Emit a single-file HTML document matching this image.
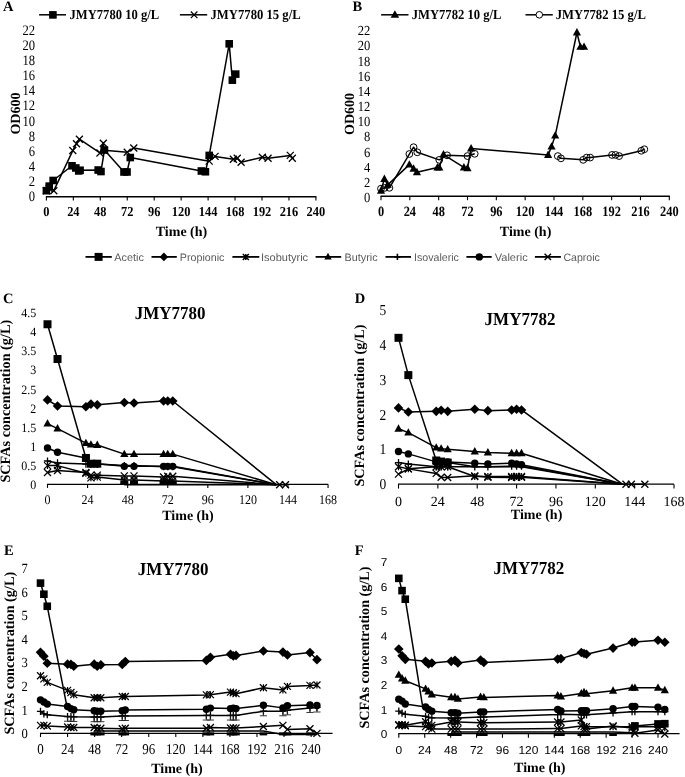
<!DOCTYPE html><html><head><meta charset="utf-8"><style>html,body{margin:0;padding:0;background:#fff}svg{display:block;will-change:transform}text{text-rendering:geometricPrecision}</style></head><body>
<svg width="685" height="777" viewBox="0 0 685 777">
<rect width="685" height="777" fill="#fff"/>
<text x="2.9" y="10.7" font-size="14.5" font-family="'Liberation Serif', serif" fill="#000" font-weight="bold">A</text>
<line x1="39.1" y1="14.8" x2="66" y2="14.8" stroke="#000" stroke-width="1.5"/>
<rect x="49.1" y="11.1" width="7.6" height="7.6" fill="#000"/>
<text x="0" y="0" transform="translate(69.5 19) scale(1 1.07)" font-size="13" font-family="'Liberation Serif', serif" fill="#000" font-weight="bold" textLength="89.6" lengthAdjust="spacingAndGlyphs">JMY7780 10 g/L</text>
<line x1="179.9" y1="14.8" x2="207.2" y2="14.8" stroke="#000" stroke-width="1.5"/>
<path d="M190.8 11.5L197.4 18.1M190.8 18.1L197.4 11.5" stroke="#000" stroke-width="1.2"/>
<text x="0" y="0" transform="translate(210.5 19) scale(1 1.07)" font-size="13" font-family="'Liberation Serif', serif" fill="#000" font-weight="bold" textLength="90.2" lengthAdjust="spacingAndGlyphs">JMY7780 15 g/L</text>
<line x1="45.9" y1="196.8" x2="316.4" y2="196.8" stroke="#000" stroke-width="1.4"/>
<line x1="46.4" y1="196.8" x2="46.4" y2="200.6" stroke="#000" stroke-width="1.1"/>
<text x="0" y="0" transform="translate(46.4 216) scale(1 1.1)" font-size="12.4" font-family="'Liberation Serif', serif" fill="#000" font-weight="bold" text-anchor="middle">0</text>
<line x1="73.35" y1="196.8" x2="73.35" y2="200.6" stroke="#000" stroke-width="1.1"/>
<text x="0" y="0" transform="translate(73.35 216) scale(1 1.1)" font-size="12.4" font-family="'Liberation Serif', serif" fill="#000" font-weight="bold" text-anchor="middle">24</text>
<line x1="100.3" y1="196.8" x2="100.3" y2="200.6" stroke="#000" stroke-width="1.1"/>
<text x="0" y="0" transform="translate(100.3 216) scale(1 1.1)" font-size="12.4" font-family="'Liberation Serif', serif" fill="#000" font-weight="bold" text-anchor="middle">48</text>
<line x1="127.25" y1="196.8" x2="127.25" y2="200.6" stroke="#000" stroke-width="1.1"/>
<text x="0" y="0" transform="translate(127.25 216) scale(1 1.1)" font-size="12.4" font-family="'Liberation Serif', serif" fill="#000" font-weight="bold" text-anchor="middle">72</text>
<line x1="154.2" y1="196.8" x2="154.2" y2="200.6" stroke="#000" stroke-width="1.1"/>
<text x="0" y="0" transform="translate(154.2 216) scale(1 1.1)" font-size="12.4" font-family="'Liberation Serif', serif" fill="#000" font-weight="bold" text-anchor="middle">96</text>
<line x1="181.15" y1="196.8" x2="181.15" y2="200.6" stroke="#000" stroke-width="1.1"/>
<text x="0" y="0" transform="translate(181.15 216) scale(1 1.1)" font-size="12.4" font-family="'Liberation Serif', serif" fill="#000" font-weight="bold" text-anchor="middle">120</text>
<line x1="208.1" y1="196.8" x2="208.1" y2="200.6" stroke="#000" stroke-width="1.1"/>
<text x="0" y="0" transform="translate(208.1 216) scale(1 1.1)" font-size="12.4" font-family="'Liberation Serif', serif" fill="#000" font-weight="bold" text-anchor="middle">144</text>
<line x1="235.05" y1="196.8" x2="235.05" y2="200.6" stroke="#000" stroke-width="1.1"/>
<text x="0" y="0" transform="translate(235.05 216) scale(1 1.1)" font-size="12.4" font-family="'Liberation Serif', serif" fill="#000" font-weight="bold" text-anchor="middle">168</text>
<line x1="262" y1="196.8" x2="262" y2="200.6" stroke="#000" stroke-width="1.1"/>
<text x="0" y="0" transform="translate(262 216) scale(1 1.1)" font-size="12.4" font-family="'Liberation Serif', serif" fill="#000" font-weight="bold" text-anchor="middle">192</text>
<line x1="288.95" y1="196.8" x2="288.95" y2="200.6" stroke="#000" stroke-width="1.1"/>
<text x="0" y="0" transform="translate(288.95 216) scale(1 1.1)" font-size="12.4" font-family="'Liberation Serif', serif" fill="#000" font-weight="bold" text-anchor="middle">216</text>
<line x1="315.9" y1="196.8" x2="315.9" y2="200.6" stroke="#000" stroke-width="1.1"/>
<text x="0" y="0" transform="translate(315.9 216) scale(1 1.1)" font-size="12.4" font-family="'Liberation Serif', serif" fill="#000" font-weight="bold" text-anchor="middle">240</text>
<text x="0" y="0" transform="translate(35 201.25) scale(1 1.15)" font-size="12.6" font-family="'Liberation Serif', serif" fill="#000" text-anchor="end">0</text>
<text x="0" y="0" transform="translate(35 186.11) scale(1 1.15)" font-size="12.6" font-family="'Liberation Serif', serif" fill="#000" text-anchor="end">2</text>
<text x="0" y="0" transform="translate(35 170.97) scale(1 1.15)" font-size="12.6" font-family="'Liberation Serif', serif" fill="#000" text-anchor="end">4</text>
<text x="0" y="0" transform="translate(35 155.83) scale(1 1.15)" font-size="12.6" font-family="'Liberation Serif', serif" fill="#000" text-anchor="end">6</text>
<text x="0" y="0" transform="translate(35 140.69) scale(1 1.15)" font-size="12.6" font-family="'Liberation Serif', serif" fill="#000" text-anchor="end">8</text>
<text x="0" y="0" transform="translate(35 125.55) scale(1 1.15)" font-size="12.6" font-family="'Liberation Serif', serif" fill="#000" text-anchor="end">10</text>
<text x="0" y="0" transform="translate(35 110.41) scale(1 1.15)" font-size="12.6" font-family="'Liberation Serif', serif" fill="#000" text-anchor="end">12</text>
<text x="0" y="0" transform="translate(35 95.27) scale(1 1.15)" font-size="12.6" font-family="'Liberation Serif', serif" fill="#000" text-anchor="end">14</text>
<text x="0" y="0" transform="translate(35 80.13) scale(1 1.15)" font-size="12.6" font-family="'Liberation Serif', serif" fill="#000" text-anchor="end">16</text>
<text x="0" y="0" transform="translate(35 64.99) scale(1 1.15)" font-size="12.6" font-family="'Liberation Serif', serif" fill="#000" text-anchor="end">18</text>
<text x="0" y="0" transform="translate(35 49.85) scale(1 1.15)" font-size="12.6" font-family="'Liberation Serif', serif" fill="#000" text-anchor="end">20</text>
<text x="0" y="0" transform="translate(35 34.71) scale(1 1.15)" font-size="12.6" font-family="'Liberation Serif', serif" fill="#000" text-anchor="end">22</text>
<text x="20.1" y="113.6" transform="rotate(-90 20.1 113.6)" font-size="14" font-family="'Liberation Serif', serif" fill="#000" font-weight="bold" text-anchor="middle">OD600</text>
<text x="181.5" y="235.6" font-size="14" font-family="'Liberation Serif', serif" fill="#000" font-weight="bold" text-anchor="middle">Time (h)</text>
<polyline fill="none" stroke="#000" stroke-width="1.5" stroke-linejoin="round" points="46.4,190.69 49.21,186.15 53.14,180.47 72,165.78 75.82,167.98 78.74,170.93 80.09,170.25 98.17,170.02 100.97,171.53 104.45,150.04 123.99,171.99 127.02,171.99 130.28,157.53 201.36,171 205.4,171.76 209.22,155.41 229.21,43.83 232.35,80.16 235.72,74.11"/>
<rect x="42.6" y="186.89" width="7.6" height="7.6" fill="#000"/>
<rect x="45.41" y="182.34" width="7.6" height="7.6" fill="#000"/>
<rect x="49.34" y="176.67" width="7.6" height="7.6" fill="#000"/>
<rect x="68.2" y="161.98" width="7.6" height="7.6" fill="#000"/>
<rect x="72.02" y="164.18" width="7.6" height="7.6" fill="#000"/>
<rect x="74.94" y="167.13" width="7.6" height="7.6" fill="#000"/>
<rect x="76.29" y="166.45" width="7.6" height="7.6" fill="#000"/>
<rect x="94.37" y="166.22" width="7.6" height="7.6" fill="#000"/>
<rect x="97.17" y="167.73" width="7.6" height="7.6" fill="#000"/>
<rect x="100.65" y="146.24" width="7.6" height="7.6" fill="#000"/>
<rect x="120.19" y="168.19" width="7.6" height="7.6" fill="#000"/>
<rect x="123.22" y="168.19" width="7.6" height="7.6" fill="#000"/>
<rect x="126.48" y="153.73" width="7.6" height="7.6" fill="#000"/>
<rect x="197.56" y="167.2" width="7.6" height="7.6" fill="#000"/>
<rect x="201.6" y="167.96" width="7.6" height="7.6" fill="#000"/>
<rect x="205.42" y="151.61" width="7.6" height="7.6" fill="#000"/>
<rect x="225.41" y="40.03" width="7.6" height="7.6" fill="#000"/>
<rect x="228.55" y="76.36" width="7.6" height="7.6" fill="#000"/>
<rect x="231.92" y="70.31" width="7.6" height="7.6" fill="#000"/>
<polyline fill="none" stroke="#000" stroke-width="1.5" stroke-linejoin="round" points="46.4,190.69 49.21,188.42 53.81,190.69 72.79,150.57 76.49,143.75 79.41,139.21 99.96,152.99 103.33,143.3 104.23,150.19 127.25,152.31 133.76,147.92 209.22,161.16 215.06,156.39 233.36,159.27 237.29,158.29 241.11,162.22 262.33,157.3 268.06,158.29 290.29,155.41 292.32,158.29"/>
<path d="M42.9 187.19L49.9 194.19M42.9 194.19L49.9 187.19" stroke="#000" stroke-width="1.3"/>
<path d="M45.71 184.92L52.71 191.92M45.71 191.92L52.71 184.92" stroke="#000" stroke-width="1.3"/>
<path d="M50.31 187.19L57.31 194.19M50.31 194.19L57.31 187.19" stroke="#000" stroke-width="1.3"/>
<path d="M69.29 147.07L76.29 154.07M69.29 154.07L76.29 147.07" stroke="#000" stroke-width="1.3"/>
<path d="M72.99 140.25L79.99 147.25M72.99 147.25L79.99 140.25" stroke="#000" stroke-width="1.3"/>
<path d="M75.91 135.71L82.91 142.71M75.91 142.71L82.91 135.71" stroke="#000" stroke-width="1.3"/>
<path d="M96.46 149.49L103.46 156.49M96.46 156.49L103.46 149.49" stroke="#000" stroke-width="1.3"/>
<path d="M99.83 139.8L106.83 146.8M99.83 146.8L106.83 139.8" stroke="#000" stroke-width="1.3"/>
<path d="M100.73 146.69L107.73 153.69M100.73 153.69L107.73 146.69" stroke="#000" stroke-width="1.3"/>
<path d="M123.75 148.81L130.75 155.81M123.75 155.81L130.75 148.81" stroke="#000" stroke-width="1.3"/>
<path d="M130.26 144.42L137.26 151.42M130.26 151.42L137.26 144.42" stroke="#000" stroke-width="1.3"/>
<path d="M205.72 157.66L212.72 164.66M205.72 164.66L212.72 157.66" stroke="#000" stroke-width="1.3"/>
<path d="M211.56 152.89L218.56 159.89M211.56 159.89L218.56 152.89" stroke="#000" stroke-width="1.3"/>
<path d="M229.86 155.77L236.86 162.77M229.86 162.77L236.86 155.77" stroke="#000" stroke-width="1.3"/>
<path d="M233.79 154.79L240.79 161.79M233.79 161.79L240.79 154.79" stroke="#000" stroke-width="1.3"/>
<path d="M237.61 158.72L244.61 165.72M237.61 165.72L244.61 158.72" stroke="#000" stroke-width="1.3"/>
<path d="M258.83 153.8L265.83 160.8M258.83 160.8L265.83 153.8" stroke="#000" stroke-width="1.3"/>
<path d="M264.56 154.79L271.56 161.79M264.56 161.79L271.56 154.79" stroke="#000" stroke-width="1.3"/>
<path d="M286.79 151.91L293.79 158.91M286.79 158.91L293.79 151.91" stroke="#000" stroke-width="1.3"/>
<path d="M288.82 154.79L295.82 161.79M288.82 161.79L295.82 154.79" stroke="#000" stroke-width="1.3"/>
<text x="352.4" y="10.8" font-size="14.5" font-family="'Liberation Serif', serif" fill="#000" font-weight="bold">B</text>
<line x1="381.1" y1="14.8" x2="408.5" y2="14.8" stroke="#000" stroke-width="1.5"/>
<polygon points="394.9,10.21 399.15,17.86 390.65,17.86" fill="#000"/>
<text x="0" y="0" transform="translate(411.7 19) scale(1 1.07)" font-size="13" font-family="'Liberation Serif', serif" fill="#000" font-weight="bold" textLength="89.8" lengthAdjust="spacingAndGlyphs">JMY7782 10 g/L</text>
<line x1="525.5" y1="14.8" x2="552.8" y2="14.8" stroke="#000" stroke-width="1.5"/>
<circle cx="539.3" cy="14.8" r="3.3" fill="#fff" stroke="#000" stroke-width="1"/>
<text x="0" y="0" transform="translate(555.7 19) scale(1 1.07)" font-size="13" font-family="'Liberation Serif', serif" fill="#000" font-weight="bold" textLength="90.2" lengthAdjust="spacingAndGlyphs">JMY7782 15 g/L</text>
<line x1="380.5" y1="196.3" x2="669.81" y2="196.3" stroke="#000" stroke-width="1.4"/>
<line x1="381" y1="196.3" x2="381" y2="200.2" stroke="#000" stroke-width="1.1"/>
<text x="0" y="0" transform="translate(381 215.8) scale(1 1.15)" font-size="12.4" font-family="'Liberation Serif', serif" fill="#000" font-weight="bold" text-anchor="middle">0</text>
<line x1="409.83" y1="196.3" x2="409.83" y2="200.2" stroke="#000" stroke-width="1.1"/>
<text x="0" y="0" transform="translate(409.83 215.8) scale(1 1.15)" font-size="12.4" font-family="'Liberation Serif', serif" fill="#000" font-weight="bold" text-anchor="middle">24</text>
<line x1="438.66" y1="196.3" x2="438.66" y2="200.2" stroke="#000" stroke-width="1.1"/>
<text x="0" y="0" transform="translate(438.66 215.8) scale(1 1.15)" font-size="12.4" font-family="'Liberation Serif', serif" fill="#000" font-weight="bold" text-anchor="middle">48</text>
<line x1="467.49" y1="196.3" x2="467.49" y2="200.2" stroke="#000" stroke-width="1.1"/>
<text x="0" y="0" transform="translate(467.49 215.8) scale(1 1.15)" font-size="12.4" font-family="'Liberation Serif', serif" fill="#000" font-weight="bold" text-anchor="middle">72</text>
<line x1="496.32" y1="196.3" x2="496.32" y2="200.2" stroke="#000" stroke-width="1.1"/>
<text x="0" y="0" transform="translate(496.32 215.8) scale(1 1.15)" font-size="12.4" font-family="'Liberation Serif', serif" fill="#000" font-weight="bold" text-anchor="middle">96</text>
<line x1="525.16" y1="196.3" x2="525.16" y2="200.2" stroke="#000" stroke-width="1.1"/>
<text x="0" y="0" transform="translate(525.16 215.8) scale(1 1.15)" font-size="12.4" font-family="'Liberation Serif', serif" fill="#000" font-weight="bold" text-anchor="middle">120</text>
<line x1="553.99" y1="196.3" x2="553.99" y2="200.2" stroke="#000" stroke-width="1.1"/>
<text x="0" y="0" transform="translate(553.99 215.8) scale(1 1.15)" font-size="12.4" font-family="'Liberation Serif', serif" fill="#000" font-weight="bold" text-anchor="middle">144</text>
<line x1="582.82" y1="196.3" x2="582.82" y2="200.2" stroke="#000" stroke-width="1.1"/>
<text x="0" y="0" transform="translate(582.82 215.8) scale(1 1.15)" font-size="12.4" font-family="'Liberation Serif', serif" fill="#000" font-weight="bold" text-anchor="middle">168</text>
<line x1="611.65" y1="196.3" x2="611.65" y2="200.2" stroke="#000" stroke-width="1.1"/>
<text x="0" y="0" transform="translate(611.65 215.8) scale(1 1.15)" font-size="12.4" font-family="'Liberation Serif', serif" fill="#000" font-weight="bold" text-anchor="middle">192</text>
<line x1="640.48" y1="196.3" x2="640.48" y2="200.2" stroke="#000" stroke-width="1.1"/>
<text x="0" y="0" transform="translate(640.48 215.8) scale(1 1.15)" font-size="12.4" font-family="'Liberation Serif', serif" fill="#000" font-weight="bold" text-anchor="middle">216</text>
<line x1="669.31" y1="196.3" x2="669.31" y2="200.2" stroke="#000" stroke-width="1.1"/>
<text x="0" y="0" transform="translate(669.31 215.8) scale(1 1.15)" font-size="12.4" font-family="'Liberation Serif', serif" fill="#000" font-weight="bold" text-anchor="middle">240</text>
<text x="0" y="0" transform="translate(370.3 202) scale(1 1.1)" font-size="12.6" font-family="'Liberation Serif', serif" fill="#000" text-anchor="end">0</text>
<text x="0" y="0" transform="translate(370.3 186.84) scale(1 1.1)" font-size="12.6" font-family="'Liberation Serif', serif" fill="#000" text-anchor="end">2</text>
<text x="0" y="0" transform="translate(370.3 171.68) scale(1 1.1)" font-size="12.6" font-family="'Liberation Serif', serif" fill="#000" text-anchor="end">4</text>
<text x="0" y="0" transform="translate(370.3 156.52) scale(1 1.1)" font-size="12.6" font-family="'Liberation Serif', serif" fill="#000" text-anchor="end">6</text>
<text x="0" y="0" transform="translate(370.3 141.36) scale(1 1.1)" font-size="12.6" font-family="'Liberation Serif', serif" fill="#000" text-anchor="end">8</text>
<text x="0" y="0" transform="translate(370.3 126.2) scale(1 1.1)" font-size="12.6" font-family="'Liberation Serif', serif" fill="#000" text-anchor="end">10</text>
<text x="0" y="0" transform="translate(370.3 111.04) scale(1 1.1)" font-size="12.6" font-family="'Liberation Serif', serif" fill="#000" text-anchor="end">12</text>
<text x="0" y="0" transform="translate(370.3 95.88) scale(1 1.1)" font-size="12.6" font-family="'Liberation Serif', serif" fill="#000" text-anchor="end">14</text>
<text x="0" y="0" transform="translate(370.3 80.72) scale(1 1.1)" font-size="12.6" font-family="'Liberation Serif', serif" fill="#000" text-anchor="end">16</text>
<text x="0" y="0" transform="translate(370.3 65.56) scale(1 1.1)" font-size="12.6" font-family="'Liberation Serif', serif" fill="#000" text-anchor="end">18</text>
<text x="0" y="0" transform="translate(370.3 50.4) scale(1 1.1)" font-size="12.6" font-family="'Liberation Serif', serif" fill="#000" text-anchor="end">20</text>
<text x="0" y="0" transform="translate(370.3 35.24) scale(1 1.1)" font-size="12.6" font-family="'Liberation Serif', serif" fill="#000" text-anchor="end">22</text>
<text x="354.2" y="114" transform="rotate(-90 354.2 114)" font-size="14" font-family="'Liberation Serif', serif" fill="#000" font-weight="bold" text-anchor="middle">OD600</text>
<text x="525.6" y="235.7" font-size="14" font-family="'Liberation Serif', serif" fill="#000" font-weight="bold" text-anchor="middle">Time (h)</text>
<polyline fill="none" stroke="#000" stroke-width="1.5" stroke-linejoin="round" points="381,190.78 384.36,179.04 387.73,184.87 409.35,164.63 413.56,168.8 416.92,172.21 437.46,167.44 439.26,167.44 443.47,154.55 463.89,167.44 467.49,168.2 471.1,148.49 548.1,154.93 551.58,146.59 555.19,135.6 576.93,32.51 580.42,46.92 584.02,46.92"/>
<polygon points="381,186.36 385.1,193.74 376.9,193.74" fill="#000"/>
<polygon points="384.36,174.61 388.46,181.99 380.26,181.99" fill="#000"/>
<polygon points="387.73,180.44 391.83,187.82 383.63,187.82" fill="#000"/>
<polygon points="409.35,160.21 413.45,167.59 405.25,167.59" fill="#000"/>
<polygon points="413.56,164.37 417.66,171.75 409.46,171.75" fill="#000"/>
<polygon points="416.92,167.79 421.02,175.17 412.82,175.17" fill="#000"/>
<polygon points="437.46,163.01 441.56,170.39 433.36,170.39" fill="#000"/>
<polygon points="439.26,163.01 443.36,170.39 435.16,170.39" fill="#000"/>
<polygon points="443.47,150.12 447.57,157.5 439.37,157.5" fill="#000"/>
<polygon points="463.89,163.01 467.99,170.39 459.79,170.39" fill="#000"/>
<polygon points="467.49,163.77 471.59,171.15 463.39,171.15" fill="#000"/>
<polygon points="471.1,144.06 475.2,151.44 467,151.44" fill="#000"/>
<polygon points="548.1,150.5 552.2,157.88 544,157.88" fill="#000"/>
<polygon points="551.58,142.16 555.68,149.54 547.48,149.54" fill="#000"/>
<polygon points="555.19,131.17 559.29,138.55 551.09,138.55" fill="#000"/>
<polygon points="576.93,28.09 581.03,35.47 572.83,35.47" fill="#000"/>
<polygon points="580.42,42.49 584.52,49.87 576.32,49.87" fill="#000"/>
<polygon points="584.02,42.49 588.12,49.87 579.92,49.87" fill="#000"/>
<polyline fill="none" stroke="#000" stroke-width="1.5" stroke-linejoin="round" points="381,188.66 384.6,187.9 389.41,187.83 409.35,154.02 413.56,147.2 417.28,152.28 439.26,159.86 447.07,155.31 467.49,156.07 474.7,153.79"/>
<polyline fill="none" stroke="#000" stroke-width="1.5" stroke-linejoin="round" points="557.83,156.07 560.95,158.34 583.18,159.86 586.66,157.58 590.15,157.58 612.01,154.93 615.49,154.93 619.1,156.07 641.32,150.76 644.32,149.25"/>
<circle cx="381" cy="188.66" r="3.4" fill="none" stroke="#000" stroke-width="1"/>
<circle cx="384.6" cy="187.9" r="3.4" fill="none" stroke="#000" stroke-width="1"/>
<circle cx="389.41" cy="187.83" r="3.4" fill="none" stroke="#000" stroke-width="1"/>
<circle cx="409.35" cy="154.02" r="3.4" fill="none" stroke="#000" stroke-width="1"/>
<circle cx="413.56" cy="147.2" r="3.4" fill="none" stroke="#000" stroke-width="1"/>
<circle cx="417.28" cy="152.28" r="3.4" fill="none" stroke="#000" stroke-width="1"/>
<circle cx="439.26" cy="159.86" r="3.4" fill="none" stroke="#000" stroke-width="1"/>
<circle cx="447.07" cy="155.31" r="3.4" fill="none" stroke="#000" stroke-width="1"/>
<circle cx="467.49" cy="156.07" r="3.4" fill="none" stroke="#000" stroke-width="1"/>
<circle cx="474.7" cy="153.79" r="3.4" fill="none" stroke="#000" stroke-width="1"/>
<circle cx="557.83" cy="156.07" r="3.4" fill="none" stroke="#000" stroke-width="1"/>
<circle cx="560.95" cy="158.34" r="3.4" fill="none" stroke="#000" stroke-width="1"/>
<circle cx="583.18" cy="159.86" r="3.4" fill="none" stroke="#000" stroke-width="1"/>
<circle cx="586.66" cy="157.58" r="3.4" fill="none" stroke="#000" stroke-width="1"/>
<circle cx="590.15" cy="157.58" r="3.4" fill="none" stroke="#000" stroke-width="1"/>
<circle cx="612.01" cy="154.93" r="3.4" fill="none" stroke="#000" stroke-width="1"/>
<circle cx="615.49" cy="154.93" r="3.4" fill="none" stroke="#000" stroke-width="1"/>
<circle cx="619.1" cy="156.07" r="3.4" fill="none" stroke="#000" stroke-width="1"/>
<circle cx="641.32" cy="150.76" r="3.4" fill="none" stroke="#000" stroke-width="1"/>
<circle cx="644.32" cy="149.25" r="3.4" fill="none" stroke="#000" stroke-width="1"/>
<line x1="85.5" y1="256.9" x2="111.8" y2="256.9" stroke="#000" stroke-width="1.8"/>
<rect x="94.6" y="252.9" width="8" height="8" fill="#000"/>
<text x="114.3" y="260.9" font-size="10.8" font-family="'Liberation Sans', sans-serif" fill="#595959" textLength="29.5" lengthAdjust="spacingAndGlyphs">Acetic</text>
<line x1="151.5" y1="256.9" x2="176.8" y2="256.9" stroke="#000" stroke-width="1.8"/>
<polygon points="163.9,252.6 168.2,256.9 163.9,261.2 159.6,256.9" fill="#000"/>
<text x="179.8" y="260.9" font-size="10.8" font-family="'Liberation Sans', sans-serif" fill="#595959" textLength="44.6" lengthAdjust="spacingAndGlyphs">Propionic</text>
<line x1="232.4" y1="256.9" x2="259.3" y2="256.9" stroke="#000" stroke-width="1.8"/>
<path d="M242.8 253.9L248.8 259.9M242.8 259.9L248.8 253.9M245.8 253.9V259.9" stroke="#000" stroke-width="1.4"/>
<text x="261" y="260.9" font-size="10.8" font-family="'Liberation Sans', sans-serif" fill="#595959" textLength="47.1" lengthAdjust="spacingAndGlyphs">Isobutyric</text>
<line x1="315.6" y1="256.9" x2="341.2" y2="256.9" stroke="#000" stroke-width="1.8"/>
<polygon points="328,252.85 331.75,259.6 324.25,259.6" fill="#000"/>
<text x="344.6" y="260.9" font-size="10.8" font-family="'Liberation Sans', sans-serif" fill="#595959" textLength="33" lengthAdjust="spacingAndGlyphs">Butyric</text>
<line x1="385.5" y1="256.9" x2="411" y2="256.9" stroke="#000" stroke-width="1.8"/>
<path d="M394.2 256.9H400.6M397.4 253.7V260.1" stroke="#000" stroke-width="1.6"/>
<text x="414" y="260.9" font-size="10.8" font-family="'Liberation Sans', sans-serif" fill="#595959" textLength="44.9" lengthAdjust="spacingAndGlyphs">Isovaleric</text>
<line x1="466.4" y1="256.9" x2="491.7" y2="256.9" stroke="#000" stroke-width="1.8"/>
<circle cx="479.3" cy="256.9" r="3.7" fill="#000"/>
<text x="494.7" y="260.9" font-size="10.8" font-family="'Liberation Sans', sans-serif" fill="#595959" textLength="33" lengthAdjust="spacingAndGlyphs">Valeric</text>
<line x1="534.9" y1="256.9" x2="560.9" y2="256.9" stroke="#000" stroke-width="1.8"/>
<path d="M544.6 253.7L551 260.1M544.6 260.1L551 253.7" stroke="#000" stroke-width="1.4"/>
<text x="563.4" y="260.9" font-size="10.8" font-family="'Liberation Sans', sans-serif" fill="#595959" textLength="36.5" lengthAdjust="spacingAndGlyphs">Caproic</text>
<text x="3.1" y="302.9" font-size="14.5" font-family="'Liberation Serif', serif" fill="#000" font-weight="bold">C</text>
<text x="0" y="0" transform="translate(170.1 318.7) scale(1 1.07)" font-size="17" font-family="'Liberation Serif', serif" fill="#000" font-weight="bold" text-anchor="middle">JMY7780</text>
<line x1="47" y1="484.3" x2="328.06" y2="484.3" stroke="#000" stroke-width="1.3"/>
<line x1="47.5" y1="484.3" x2="47.5" y2="487.9" stroke="#000" stroke-width="1.1"/>
<text x="0" y="0" transform="translate(47.5 503.6) scale(1 1.1)" font-size="12" font-family="'Liberation Serif', serif" fill="#000" text-anchor="middle">0</text>
<line x1="87.58" y1="484.3" x2="87.58" y2="487.9" stroke="#000" stroke-width="1.1"/>
<text x="0" y="0" transform="translate(87.58 503.6) scale(1 1.1)" font-size="12" font-family="'Liberation Serif', serif" fill="#000" text-anchor="middle">24</text>
<line x1="127.66" y1="484.3" x2="127.66" y2="487.9" stroke="#000" stroke-width="1.1"/>
<text x="0" y="0" transform="translate(127.66 503.6) scale(1 1.1)" font-size="12" font-family="'Liberation Serif', serif" fill="#000" text-anchor="middle">48</text>
<line x1="167.74" y1="484.3" x2="167.74" y2="487.9" stroke="#000" stroke-width="1.1"/>
<text x="0" y="0" transform="translate(167.74 503.6) scale(1 1.1)" font-size="12" font-family="'Liberation Serif', serif" fill="#000" text-anchor="middle">72</text>
<line x1="207.82" y1="484.3" x2="207.82" y2="487.9" stroke="#000" stroke-width="1.1"/>
<text x="0" y="0" transform="translate(207.82 503.6) scale(1 1.1)" font-size="12" font-family="'Liberation Serif', serif" fill="#000" text-anchor="middle">96</text>
<line x1="247.9" y1="484.3" x2="247.9" y2="487.9" stroke="#000" stroke-width="1.1"/>
<text x="0" y="0" transform="translate(247.9 503.6) scale(1 1.1)" font-size="12" font-family="'Liberation Serif', serif" fill="#000" text-anchor="middle">120</text>
<line x1="287.98" y1="484.3" x2="287.98" y2="487.9" stroke="#000" stroke-width="1.1"/>
<text x="0" y="0" transform="translate(287.98 503.6) scale(1 1.1)" font-size="12" font-family="'Liberation Serif', serif" fill="#000" text-anchor="middle">144</text>
<line x1="328.06" y1="484.3" x2="328.06" y2="487.9" stroke="#000" stroke-width="1.1"/>
<text x="0" y="0" transform="translate(328.06 503.6) scale(1 1.1)" font-size="12" font-family="'Liberation Serif', serif" fill="#000" text-anchor="middle">168</text>
<text x="0" y="0" transform="translate(36.2 489) scale(1 1.06)" font-size="12" font-family="'Liberation Serif', serif" fill="#000" text-anchor="end">0</text>
<text x="0" y="0" transform="translate(36.2 469.9) scale(1 1.06)" font-size="12" font-family="'Liberation Serif', serif" fill="#000" text-anchor="end">0.5</text>
<text x="0" y="0" transform="translate(36.2 450.8) scale(1 1.06)" font-size="12" font-family="'Liberation Serif', serif" fill="#000" text-anchor="end">1</text>
<text x="0" y="0" transform="translate(36.2 431.7) scale(1 1.06)" font-size="12" font-family="'Liberation Serif', serif" fill="#000" text-anchor="end">1.5</text>
<text x="0" y="0" transform="translate(36.2 412.6) scale(1 1.06)" font-size="12" font-family="'Liberation Serif', serif" fill="#000" text-anchor="end">2</text>
<text x="0" y="0" transform="translate(36.2 393.5) scale(1 1.06)" font-size="12" font-family="'Liberation Serif', serif" fill="#000" text-anchor="end">2.5</text>
<text x="0" y="0" transform="translate(36.2 374.4) scale(1 1.06)" font-size="12" font-family="'Liberation Serif', serif" fill="#000" text-anchor="end">3</text>
<text x="0" y="0" transform="translate(36.2 355.3) scale(1 1.06)" font-size="12" font-family="'Liberation Serif', serif" fill="#000" text-anchor="end">3.5</text>
<text x="0" y="0" transform="translate(36.2 336.2) scale(1 1.06)" font-size="12" font-family="'Liberation Serif', serif" fill="#000" text-anchor="end">4</text>
<text x="0" y="0" transform="translate(36.2 317.1) scale(1 1.06)" font-size="12" font-family="'Liberation Serif', serif" fill="#000" text-anchor="end">4.5</text>
<text x="10" y="401.2" transform="rotate(-90 10 401.2)" font-size="14.25" font-family="'Liberation Serif', serif" fill="#000" font-weight="bold" text-anchor="middle">SCFAs concentration (g/L)</text>
<text x="188" y="520.4" font-size="14" font-family="'Liberation Serif', serif" fill="#000" font-weight="bold" text-anchor="middle">Time (h)</text>
<polyline fill="none" stroke="#000" stroke-width="1.5" stroke-linejoin="round" points="47.5,324.26 57.52,359.02 85.91,457.96 90.92,463.69 97.27,463.69"/>
<polyline fill="none" stroke="#000" stroke-width="1.5" stroke-linejoin="round" points="124.32,484.7 134.01,484.7 163.56,484.7 167.74,484.7 172.75,484.7 276.29,484.7"/>
<rect x="43.5" y="320.26" width="8" height="8" fill="#000"/>
<rect x="53.52" y="355.02" width="8" height="8" fill="#000"/>
<rect x="81.91" y="453.96" width="8" height="8" fill="#000"/>
<rect x="86.92" y="459.69" width="8" height="8" fill="#000"/>
<rect x="93.27" y="459.69" width="8" height="8" fill="#000"/>
<rect x="120.32" y="480.4" width="8" height="4.3" fill="#000"/>
<rect x="130.01" y="480.4" width="8" height="4.3" fill="#000"/>
<rect x="159.56" y="480.4" width="8" height="4.3" fill="#000"/>
<rect x="163.74" y="480.4" width="8" height="4.3" fill="#000"/>
<rect x="168.75" y="480.4" width="8" height="4.3" fill="#000"/>
<polyline fill="none" stroke="#000" stroke-width="1.5" stroke-linejoin="round" points="47.5,399.9 57.52,406.01 85.91,406.77 90.92,404.1 97.27,404.86 124.32,402.57 134.01,402.95 163.56,401.04 167.74,401.04 172.75,401.04 276.29,484.7"/>
<polygon points="47.5,395.1 52.3,399.9 47.5,404.7 42.7,399.9" fill="#000"/>
<polygon points="57.52,401.21 62.32,406.01 57.52,410.81 52.72,406.01" fill="#000"/>
<polygon points="85.91,401.97 90.71,406.77 85.91,411.57 81.11,406.77" fill="#000"/>
<polygon points="90.92,399.3 95.72,404.1 90.92,408.9 86.12,404.1" fill="#000"/>
<polygon points="97.27,400.06 102.07,404.86 97.27,409.66 92.47,404.86" fill="#000"/>
<polygon points="124.32,397.77 129.12,402.57 124.32,407.37 119.52,402.57" fill="#000"/>
<polygon points="134.01,398.15 138.81,402.95 134.01,407.75 129.21,402.95" fill="#000"/>
<polygon points="163.56,396.24 168.37,401.04 163.56,405.84 158.76,401.04" fill="#000"/>
<polygon points="167.74,396.24 172.54,401.04 167.74,405.84 162.94,401.04" fill="#000"/>
<polygon points="172.75,396.24 177.55,401.04 172.75,405.84 167.95,401.04" fill="#000"/>
<polyline fill="none" stroke="#000" stroke-width="1.5" stroke-linejoin="round" points="47.5,465.6 57.52,465.6 85.91,473.24 90.92,477.82 97.27,477.06 124.32,480.12 134.01,480.12 163.56,480.88 167.74,480.88 172.75,480.88 276.29,484.7"/>
<path d="M44 462.1L51 469.1M44 469.1L51 462.1M47.5 462.1V469.1" stroke="#000" stroke-width="1.2"/>
<path d="M54.02 462.1L61.02 469.1M54.02 469.1L61.02 462.1M57.52 462.1V469.1" stroke="#000" stroke-width="1.2"/>
<path d="M82.41 469.74L89.41 476.74M82.41 476.74L89.41 469.74M85.91 469.74V476.74" stroke="#000" stroke-width="1.2"/>
<path d="M87.42 474.32L94.42 481.32M87.42 481.32L94.42 474.32M90.92 474.32V481.32" stroke="#000" stroke-width="1.2"/>
<path d="M93.77 473.56L100.77 480.56M93.77 480.56L100.77 473.56M97.27 473.56V480.56" stroke="#000" stroke-width="1.2"/>
<path d="M120.82 476.62L127.82 483.62M120.82 483.62L127.82 476.62M124.32 476.62V483.62" stroke="#000" stroke-width="1.2"/>
<path d="M130.51 476.62L137.51 483.62M130.51 483.62L137.51 476.62M134.01 476.62V483.62" stroke="#000" stroke-width="1.2"/>
<path d="M160.06 477.38L167.06 484.38M160.06 484.38L167.06 477.38M163.56 477.38V484.38" stroke="#000" stroke-width="1.2"/>
<path d="M164.24 477.38L171.24 484.38M164.24 484.38L171.24 477.38M167.74 477.38V484.38" stroke="#000" stroke-width="1.2"/>
<path d="M169.25 477.38L176.25 484.38M169.25 484.38L176.25 477.38M172.75 477.38V484.38" stroke="#000" stroke-width="1.2"/>
<polyline fill="none" stroke="#000" stroke-width="1.5" stroke-linejoin="round" points="47.5,423.58 57.52,428.55 85.91,443.06 90.92,444.59 97.27,444.97 124.32,454.14 134.01,454.14 163.56,454.14 167.74,454.14 172.75,454.14 276.29,484.7"/>
<polygon points="47.5,419.15 51.6,426.53 43.4,426.53" fill="#000"/>
<polygon points="57.52,424.12 61.62,431.5 53.42,431.5" fill="#000"/>
<polygon points="85.91,438.63 90.01,446.01 81.81,446.01" fill="#000"/>
<polygon points="90.92,440.16 95.02,447.54 86.82,447.54" fill="#000"/>
<polygon points="97.27,440.54 101.37,447.92 93.17,447.92" fill="#000"/>
<polygon points="124.32,449.71 128.42,457.09 120.22,457.09" fill="#000"/>
<polygon points="134.01,449.71 138.11,457.09 129.91,457.09" fill="#000"/>
<polygon points="163.56,449.71 167.66,457.09 159.47,457.09" fill="#000"/>
<polygon points="167.74,449.71 171.84,457.09 163.64,457.09" fill="#000"/>
<polygon points="172.75,449.71 176.85,457.09 168.65,457.09" fill="#000"/>
<polyline fill="none" stroke="#000" stroke-width="1.5" stroke-linejoin="round" points="47.5,461.02 57.52,462.93 85.91,464.07 90.92,464.07 97.27,464.07 124.32,465.6 134.01,465.6 163.56,466.75 167.74,466.75 172.75,466.75 276.29,484.7"/>
<path d="M43.9 461.02H51.1M47.5 457.42V464.62" stroke="#000" stroke-width="1.3"/>
<path d="M53.92 462.93H61.12M57.52 459.33V466.53" stroke="#000" stroke-width="1.3"/>
<path d="M82.31 464.07H89.51M85.91 460.47V467.67" stroke="#000" stroke-width="1.3"/>
<path d="M87.32 464.07H94.52M90.92 460.47V467.67" stroke="#000" stroke-width="1.3"/>
<path d="M93.67 464.07H100.87M97.27 460.47V467.67" stroke="#000" stroke-width="1.3"/>
<path d="M120.72 465.6H127.92M124.32 462V469.2" stroke="#000" stroke-width="1.3"/>
<path d="M130.41 465.6H137.61M134.01 462V469.2" stroke="#000" stroke-width="1.3"/>
<path d="M159.97 466.75H167.16M163.56 463.15V470.35" stroke="#000" stroke-width="1.3"/>
<path d="M164.14 466.75H171.34M167.74 463.15V470.35" stroke="#000" stroke-width="1.3"/>
<path d="M169.15 466.75H176.35M172.75 463.15V470.35" stroke="#000" stroke-width="1.3"/>
<polyline fill="none" stroke="#000" stroke-width="1.5" stroke-linejoin="round" points="47.5,448.03 57.52,452.23 85.91,457.96 90.92,463.69 97.27,463.69 124.32,466.36 134.01,466.36 163.56,466.36 167.74,466.36 172.75,466.36 276.29,484.7"/>
<circle cx="47.5" cy="448.03" r="3.7" fill="#000"/>
<circle cx="57.52" cy="452.23" r="3.7" fill="#000"/>
<circle cx="85.91" cy="457.96" r="3.7" fill="#000"/>
<circle cx="90.92" cy="463.69" r="3.7" fill="#000"/>
<circle cx="97.27" cy="463.69" r="3.7" fill="#000"/>
<circle cx="124.32" cy="466.36" r="3.7" fill="#000"/>
<circle cx="134.01" cy="466.36" r="3.7" fill="#000"/>
<circle cx="163.56" cy="466.36" r="3.7" fill="#000"/>
<circle cx="167.74" cy="466.36" r="3.7" fill="#000"/>
<circle cx="172.75" cy="466.36" r="3.7" fill="#000"/>
<polyline fill="none" stroke="#000" stroke-width="1.5" stroke-linejoin="round" points="47.5,472.48 57.52,470.57 85.91,472.48 90.92,475.15 97.27,475.15 124.32,475.91 134.01,475.91 163.56,477.06 167.74,476.3 172.75,476.3 276.29,484.7 279.63,484.7 285.48,484.7"/>
<path d="M44 468.98L51 475.98M44 475.98L51 468.98" stroke="#000" stroke-width="1.3"/>
<path d="M54.02 467.07L61.02 474.07M54.02 474.07L61.02 467.07" stroke="#000" stroke-width="1.3"/>
<path d="M82.41 468.98L89.41 475.98M82.41 475.98L89.41 468.98" stroke="#000" stroke-width="1.3"/>
<path d="M87.42 471.65L94.42 478.65M87.42 478.65L94.42 471.65" stroke="#000" stroke-width="1.3"/>
<path d="M93.77 471.65L100.77 478.65M93.77 478.65L100.77 471.65" stroke="#000" stroke-width="1.3"/>
<path d="M120.82 472.41L127.82 479.41M120.82 479.41L127.82 472.41" stroke="#000" stroke-width="1.3"/>
<path d="M130.51 472.41L137.51 479.41M130.51 479.41L137.51 472.41" stroke="#000" stroke-width="1.3"/>
<path d="M160.06 473.56L167.06 480.56M160.06 480.56L167.06 473.56" stroke="#000" stroke-width="1.3"/>
<path d="M164.24 472.8L171.24 479.8M164.24 479.8L171.24 472.8" stroke="#000" stroke-width="1.3"/>
<path d="M169.25 472.8L176.25 479.8M169.25 479.8L176.25 472.8" stroke="#000" stroke-width="1.3"/>
<path d="M276.13 481.2L283.13 488.2M276.13 488.2L283.13 481.2" stroke="#000" stroke-width="1.3"/>
<path d="M281.98 481.2L288.98 488.2M281.98 488.2L288.98 481.2" stroke="#000" stroke-width="1.3"/>
<text x="354.7" y="302.9" font-size="14.5" font-family="'Liberation Serif', serif" fill="#000" font-weight="bold">D</text>
<text x="0" y="0" transform="translate(520 324.5) scale(1 1.07)" font-size="17" font-family="'Liberation Serif', serif" fill="#000" font-weight="bold" text-anchor="middle">JMY7782</text>
<line x1="398" y1="484.2" x2="674.02" y2="484.2" stroke="#000" stroke-width="1.3"/>
<line x1="398.5" y1="484.2" x2="398.5" y2="488.6" stroke="#000" stroke-width="1.1"/>
<text x="398.5" y="505.6" font-size="14" font-family="'Liberation Serif', serif" fill="#000" text-anchor="middle">0</text>
<line x1="437.86" y1="484.2" x2="437.86" y2="488.6" stroke="#000" stroke-width="1.1"/>
<text x="437.86" y="505.6" font-size="14" font-family="'Liberation Serif', serif" fill="#000" text-anchor="middle">24</text>
<line x1="477.22" y1="484.2" x2="477.22" y2="488.6" stroke="#000" stroke-width="1.1"/>
<text x="477.22" y="505.6" font-size="14" font-family="'Liberation Serif', serif" fill="#000" text-anchor="middle">48</text>
<line x1="516.58" y1="484.2" x2="516.58" y2="488.6" stroke="#000" stroke-width="1.1"/>
<text x="516.58" y="505.6" font-size="14" font-family="'Liberation Serif', serif" fill="#000" text-anchor="middle">72</text>
<line x1="555.94" y1="484.2" x2="555.94" y2="488.6" stroke="#000" stroke-width="1.1"/>
<text x="555.94" y="505.6" font-size="14" font-family="'Liberation Serif', serif" fill="#000" text-anchor="middle">96</text>
<line x1="595.3" y1="484.2" x2="595.3" y2="488.6" stroke="#000" stroke-width="1.1"/>
<text x="595.3" y="505.6" font-size="14" font-family="'Liberation Serif', serif" fill="#000" text-anchor="middle">120</text>
<line x1="634.66" y1="484.2" x2="634.66" y2="488.6" stroke="#000" stroke-width="1.1"/>
<text x="634.66" y="505.6" font-size="14" font-family="'Liberation Serif', serif" fill="#000" text-anchor="middle">144</text>
<line x1="674.02" y1="484.2" x2="674.02" y2="488.6" stroke="#000" stroke-width="1.1"/>
<text x="674.02" y="505.6" font-size="14" font-family="'Liberation Serif', serif" fill="#000" text-anchor="middle">168</text>
<text x="0" y="0" transform="translate(386.2 489.2) scale(1 1.12)" font-size="13.5" font-family="'Liberation Serif', serif" fill="#000" text-anchor="end">0</text>
<text x="0" y="0" transform="translate(386.2 454.35) scale(1 1.12)" font-size="13.5" font-family="'Liberation Serif', serif" fill="#000" text-anchor="end">1</text>
<text x="0" y="0" transform="translate(386.2 419.5) scale(1 1.12)" font-size="13.5" font-family="'Liberation Serif', serif" fill="#000" text-anchor="end">2</text>
<text x="0" y="0" transform="translate(386.2 384.65) scale(1 1.12)" font-size="13.5" font-family="'Liberation Serif', serif" fill="#000" text-anchor="end">3</text>
<text x="0" y="0" transform="translate(386.2 349.8) scale(1 1.12)" font-size="13.5" font-family="'Liberation Serif', serif" fill="#000" text-anchor="end">4</text>
<text x="0" y="0" transform="translate(386.2 314.95) scale(1 1.12)" font-size="13.5" font-family="'Liberation Serif', serif" fill="#000" text-anchor="end">5</text>
<text x="363.6" y="405.5" transform="rotate(-90 363.6 405.5)" font-size="14.2" font-family="'Liberation Serif', serif" fill="#000" font-weight="bold" text-anchor="middle">SCFAs concentration (g/L)</text>
<text x="536.6" y="519" font-size="14" font-family="'Liberation Serif', serif" fill="#000" font-weight="bold" text-anchor="middle">Time (h)</text>
<polyline fill="none" stroke="#000" stroke-width="1.5" stroke-linejoin="round" points="398.5,337.83 408.34,375.12 436.22,460.5 441.14,461.55 447.7,462.59 474.76,466.77 487.88,466.77 511.66,466.77 516.58,466.77 521.5,466.77 622.36,484.2"/>
<rect x="394.5" y="333.83" width="8" height="8" fill="#000"/>
<rect x="404.34" y="371.12" width="8" height="8" fill="#000"/>
<rect x="432.22" y="456.5" width="8" height="8" fill="#000"/>
<rect x="437.14" y="457.55" width="8" height="8" fill="#000"/>
<rect x="443.7" y="458.59" width="8" height="8" fill="#000"/>
<polyline fill="none" stroke="#000" stroke-width="1.5" stroke-linejoin="round" points="398.5,407.88 408.34,412.06 436.22,411.36 441.14,410.32 447.7,411.36 474.76,409.27 487.88,410.67 511.66,409.97 516.58,409.27 521.5,409.97 622.36,484.2"/>
<polygon points="398.5,403.08 403.3,407.88 398.5,412.68 393.7,407.88" fill="#000"/>
<polygon points="408.34,407.26 413.14,412.06 408.34,416.86 403.54,412.06" fill="#000"/>
<polygon points="436.22,406.56 441.02,411.36 436.22,416.16 431.42,411.36" fill="#000"/>
<polygon points="441.14,405.52 445.94,410.32 441.14,415.12 436.34,410.32" fill="#000"/>
<polygon points="447.7,406.56 452.5,411.36 447.7,416.16 442.9,411.36" fill="#000"/>
<polygon points="474.76,404.47 479.56,409.27 474.76,414.07 469.96,409.27" fill="#000"/>
<polygon points="487.88,405.87 492.68,410.67 487.88,415.47 483.08,410.67" fill="#000"/>
<polygon points="511.66,405.17 516.46,409.97 511.66,414.77 506.86,409.97" fill="#000"/>
<polygon points="516.58,404.47 521.38,409.27 516.58,414.07 511.78,409.27" fill="#000"/>
<polygon points="521.5,405.17 526.3,409.97 521.5,414.77 516.7,409.97" fill="#000"/>
<polyline fill="none" stroke="#000" stroke-width="1.5" stroke-linejoin="round" points="398.5,466.77 408.34,468.87 436.22,466.77 441.14,466.77 447.7,466.77 474.76,476.53 487.88,476.53 511.66,476.53 516.58,476.53 521.5,476.53 622.36,484.2"/>
<path d="M395 463.27L402 470.27M395 470.27L402 463.27M398.5 463.27V470.27" stroke="#000" stroke-width="1.2"/>
<path d="M404.84 465.37L411.84 472.37M404.84 472.37L411.84 465.37M408.34 465.37V472.37" stroke="#000" stroke-width="1.2"/>
<path d="M432.72 463.27L439.72 470.27M432.72 470.27L439.72 463.27M436.22 463.27V470.27" stroke="#000" stroke-width="1.2"/>
<path d="M437.64 463.27L444.64 470.27M437.64 470.27L444.64 463.27M441.14 463.27V470.27" stroke="#000" stroke-width="1.2"/>
<path d="M444.2 463.27L451.2 470.27M444.2 470.27L451.2 463.27M447.7 463.27V470.27" stroke="#000" stroke-width="1.2"/>
<path d="M471.26 473.03L478.26 480.03M471.26 480.03L478.26 473.03M474.76 473.03V480.03" stroke="#000" stroke-width="1.2"/>
<path d="M484.38 473.03L491.38 480.03M484.38 480.03L491.38 473.03M487.88 473.03V480.03" stroke="#000" stroke-width="1.2"/>
<path d="M508.16 473.03L515.16 480.03M508.16 480.03L515.16 473.03M511.66 473.03V480.03" stroke="#000" stroke-width="1.2"/>
<path d="M513.08 473.03L520.08 480.03M513.08 480.03L520.08 473.03M516.58 473.03V480.03" stroke="#000" stroke-width="1.2"/>
<path d="M518 473.03L525 480.03M518 480.03L525 473.03M521.5 473.03V480.03" stroke="#000" stroke-width="1.2"/>
<polyline fill="none" stroke="#000" stroke-width="1.5" stroke-linejoin="round" points="398.5,428.79 408.34,432.62 436.22,447.61 441.14,448.65 447.7,449.35 474.76,451.44 487.88,452.49 511.66,453.18 516.58,453.18 521.5,453.18 622.36,484.2"/>
<polygon points="398.5,424.36 402.6,431.74 394.4,431.74" fill="#000"/>
<polygon points="408.34,428.19 412.44,435.57 404.24,435.57" fill="#000"/>
<polygon points="436.22,443.18 440.32,450.56 432.12,450.56" fill="#000"/>
<polygon points="441.14,444.22 445.24,451.6 437.04,451.6" fill="#000"/>
<polygon points="447.7,444.92 451.8,452.3 443.6,452.3" fill="#000"/>
<polygon points="474.76,447.01 478.86,454.39 470.66,454.39" fill="#000"/>
<polygon points="487.88,448.06 491.98,455.44 483.78,455.44" fill="#000"/>
<polygon points="511.66,448.76 515.76,456.14 507.56,456.14" fill="#000"/>
<polygon points="516.58,448.76 520.68,456.14 512.48,456.14" fill="#000"/>
<polygon points="521.5,448.76 525.6,456.14 517.4,456.14" fill="#000"/>
<polyline fill="none" stroke="#000" stroke-width="1.5" stroke-linejoin="round" points="398.5,462.59 408.34,463.99 436.22,466.77 441.14,466.77 447.7,466.77 474.76,466.77 487.88,466.77 511.66,466.08 516.58,466.08 521.5,466.08 622.36,484.2"/>
<path d="M394.9 462.59H402.1M398.5 458.99V466.19" stroke="#000" stroke-width="1.3"/>
<path d="M404.74 463.99H411.94M408.34 460.39V467.59" stroke="#000" stroke-width="1.3"/>
<path d="M432.62 466.77H439.82M436.22 463.17V470.38" stroke="#000" stroke-width="1.3"/>
<path d="M437.54 466.77H444.74M441.14 463.17V470.38" stroke="#000" stroke-width="1.3"/>
<path d="M444.1 466.77H451.3M447.7 463.17V470.38" stroke="#000" stroke-width="1.3"/>
<path d="M471.16 466.77H478.36M474.76 463.17V470.38" stroke="#000" stroke-width="1.3"/>
<path d="M484.28 466.77H491.48M487.88 463.17V470.38" stroke="#000" stroke-width="1.3"/>
<path d="M508.06 466.08H515.26M511.66 462.48V469.68" stroke="#000" stroke-width="1.3"/>
<path d="M512.98 466.08H520.18M516.58 462.48V469.68" stroke="#000" stroke-width="1.3"/>
<path d="M517.9 466.08H525.1M521.5 462.48V469.68" stroke="#000" stroke-width="1.3"/>
<polyline fill="none" stroke="#000" stroke-width="1.5" stroke-linejoin="round" points="398.5,451.44 408.34,453.88 436.22,461.9 441.14,461.9 447.7,461.9 474.76,463.29 487.88,463.99 511.66,463.29 516.58,463.99 521.5,464.68 622.36,484.2"/>
<circle cx="398.5" cy="451.44" r="3.7" fill="#000"/>
<circle cx="408.34" cy="453.88" r="3.7" fill="#000"/>
<circle cx="436.22" cy="461.9" r="3.7" fill="#000"/>
<circle cx="441.14" cy="461.9" r="3.7" fill="#000"/>
<circle cx="447.7" cy="461.9" r="3.7" fill="#000"/>
<circle cx="474.76" cy="463.29" r="3.7" fill="#000"/>
<circle cx="487.88" cy="463.99" r="3.7" fill="#000"/>
<circle cx="511.66" cy="463.29" r="3.7" fill="#000"/>
<circle cx="516.58" cy="463.99" r="3.7" fill="#000"/>
<circle cx="521.5" cy="464.68" r="3.7" fill="#000"/>
<polyline fill="none" stroke="#000" stroke-width="1.5" stroke-linejoin="round" points="398.5,474.09 408.34,468.87 436.22,473.4 441.14,477.23 447.7,477.58 474.76,475.84 487.88,477.23 511.66,477.58 516.58,477.23 521.5,477.23 622.36,484.2 625.97,484.2 631.38,484.2 644.83,484.2"/>
<path d="M395 470.59L402 477.59M395 477.59L402 470.59" stroke="#000" stroke-width="1.3"/>
<path d="M404.84 465.37L411.84 472.37M404.84 472.37L411.84 465.37" stroke="#000" stroke-width="1.3"/>
<path d="M432.72 469.9L439.72 476.9M432.72 476.9L439.72 469.9" stroke="#000" stroke-width="1.3"/>
<path d="M437.64 473.73L444.64 480.73M437.64 480.73L444.64 473.73" stroke="#000" stroke-width="1.3"/>
<path d="M444.2 474.08L451.2 481.08M444.2 481.08L451.2 474.08" stroke="#000" stroke-width="1.3"/>
<path d="M471.26 472.34L478.26 479.34M471.26 479.34L478.26 472.34" stroke="#000" stroke-width="1.3"/>
<path d="M484.38 473.73L491.38 480.73M484.38 480.73L491.38 473.73" stroke="#000" stroke-width="1.3"/>
<path d="M508.16 474.08L515.16 481.08M508.16 481.08L515.16 474.08" stroke="#000" stroke-width="1.3"/>
<path d="M513.08 473.73L520.08 480.73M513.08 480.73L520.08 473.73" stroke="#000" stroke-width="1.3"/>
<path d="M518 473.73L525 480.73M518 480.73L525 473.73" stroke="#000" stroke-width="1.3"/>
<path d="M622.47 480.7L629.47 487.7M622.47 487.7L629.47 480.7" stroke="#000" stroke-width="1.3"/>
<path d="M627.88 480.7L634.88 487.7M627.88 487.7L634.88 480.7" stroke="#000" stroke-width="1.3"/>
<path d="M641.33 480.7L648.33 487.7M641.33 487.7L648.33 480.7" stroke="#000" stroke-width="1.3"/>
<text x="3.9" y="554.7" font-size="14.5" font-family="'Liberation Serif', serif" fill="#000" font-weight="bold">E</text>
<text x="0" y="0" transform="translate(173.2 574.7) scale(1 1.07)" font-size="17" font-family="'Liberation Serif', serif" fill="#000" font-weight="bold" text-anchor="middle">JMY7780</text>
<line x1="40" y1="733.4" x2="332.52" y2="733.4" stroke="#000" stroke-width="1.3"/>
<line x1="40.5" y1="733.4" x2="40.5" y2="737" stroke="#000" stroke-width="1.1"/>
<text x="0" y="0" transform="translate(40.5 754.1) scale(1 1.15)" font-size="13" font-family="'Liberation Serif', serif" fill="#000" text-anchor="middle">0</text>
<line x1="67.56" y1="733.4" x2="67.56" y2="737" stroke="#000" stroke-width="1.1"/>
<text x="0" y="0" transform="translate(67.56 754.1) scale(1 1.15)" font-size="13" font-family="'Liberation Serif', serif" fill="#000" text-anchor="middle">24</text>
<line x1="94.62" y1="733.4" x2="94.62" y2="737" stroke="#000" stroke-width="1.1"/>
<text x="0" y="0" transform="translate(94.62 754.1) scale(1 1.15)" font-size="13" font-family="'Liberation Serif', serif" fill="#000" text-anchor="middle">48</text>
<line x1="121.68" y1="733.4" x2="121.68" y2="737" stroke="#000" stroke-width="1.1"/>
<text x="0" y="0" transform="translate(121.68 754.1) scale(1 1.15)" font-size="13" font-family="'Liberation Serif', serif" fill="#000" text-anchor="middle">72</text>
<line x1="148.74" y1="733.4" x2="148.74" y2="737" stroke="#000" stroke-width="1.1"/>
<text x="0" y="0" transform="translate(148.74 754.1) scale(1 1.15)" font-size="13" font-family="'Liberation Serif', serif" fill="#000" text-anchor="middle">96</text>
<line x1="175.8" y1="733.4" x2="175.8" y2="737" stroke="#000" stroke-width="1.1"/>
<text x="0" y="0" transform="translate(175.8 754.1) scale(1 1.15)" font-size="13" font-family="'Liberation Serif', serif" fill="#000" text-anchor="middle">120</text>
<line x1="202.86" y1="733.4" x2="202.86" y2="737" stroke="#000" stroke-width="1.1"/>
<text x="0" y="0" transform="translate(202.86 754.1) scale(1 1.15)" font-size="13" font-family="'Liberation Serif', serif" fill="#000" text-anchor="middle">144</text>
<line x1="229.92" y1="733.4" x2="229.92" y2="737" stroke="#000" stroke-width="1.1"/>
<text x="0" y="0" transform="translate(229.92 754.1) scale(1 1.15)" font-size="13" font-family="'Liberation Serif', serif" fill="#000" text-anchor="middle">168</text>
<line x1="256.98" y1="733.4" x2="256.98" y2="737" stroke="#000" stroke-width="1.1"/>
<text x="0" y="0" transform="translate(256.98 754.1) scale(1 1.15)" font-size="13" font-family="'Liberation Serif', serif" fill="#000" text-anchor="middle">192</text>
<line x1="284.04" y1="733.4" x2="284.04" y2="737" stroke="#000" stroke-width="1.1"/>
<text x="0" y="0" transform="translate(284.04 754.1) scale(1 1.15)" font-size="13" font-family="'Liberation Serif', serif" fill="#000" text-anchor="middle">216</text>
<line x1="311.1" y1="733.4" x2="311.1" y2="737" stroke="#000" stroke-width="1.1"/>
<text x="0" y="0" transform="translate(311.1 754.1) scale(1 1.15)" font-size="13" font-family="'Liberation Serif', serif" fill="#000" text-anchor="middle">240</text>
<text x="0" y="0" transform="translate(27.9 738.3) scale(0.9 1)" font-size="14" font-family="'Liberation Serif', serif" fill="#000" text-anchor="end">0</text>
<text x="0" y="0" transform="translate(27.9 714.67) scale(0.9 1)" font-size="14" font-family="'Liberation Serif', serif" fill="#000" text-anchor="end">1</text>
<text x="0" y="0" transform="translate(27.9 691.04) scale(0.9 1)" font-size="14" font-family="'Liberation Serif', serif" fill="#000" text-anchor="end">2</text>
<text x="0" y="0" transform="translate(27.9 667.41) scale(0.9 1)" font-size="14" font-family="'Liberation Serif', serif" fill="#000" text-anchor="end">3</text>
<text x="0" y="0" transform="translate(27.9 643.78) scale(0.9 1)" font-size="14" font-family="'Liberation Serif', serif" fill="#000" text-anchor="end">4</text>
<text x="0" y="0" transform="translate(27.9 620.15) scale(0.9 1)" font-size="14" font-family="'Liberation Serif', serif" fill="#000" text-anchor="end">5</text>
<text x="0" y="0" transform="translate(27.9 596.52) scale(0.9 1)" font-size="14" font-family="'Liberation Serif', serif" fill="#000" text-anchor="end">6</text>
<text x="0" y="0" transform="translate(27.9 572.89) scale(0.9 1)" font-size="14" font-family="'Liberation Serif', serif" fill="#000" text-anchor="end">7</text>
<text x="13.9" y="653.2" transform="rotate(-90 13.9 653.2)" font-size="14.25" font-family="'Liberation Serif', serif" fill="#000" font-weight="bold" text-anchor="middle">SCFAs concentration (g/L)</text>
<text x="176.9" y="773.3" font-size="14" font-family="'Liberation Serif', serif" fill="#000" font-weight="bold" text-anchor="middle">Time (h)</text>
<polyline fill="none" stroke="#000" stroke-width="1.5" stroke-linejoin="round" points="40.5,583.11 43.88,594.22 47.27,606.27 67,706.93"/>
<polyline fill="none" stroke="#000" stroke-width="1.5" stroke-linejoin="round" points="94.17,731.04 97.21,731.04 100.82,731.04 122.24,731.04 125.29,731.04 206.36,731.04 210.41,731.04 230.48,731.04 233.3,731.04 236.01,731.04 263.41,731.04 282.91,734.58 287.42,734.58 309.97,734.58 316.96,734.58"/>
<rect x="36.7" y="579.31" width="7.6" height="7.6" fill="#000"/>
<rect x="40.08" y="590.42" width="7.6" height="7.6" fill="#000"/>
<rect x="43.47" y="602.47" width="7.6" height="7.6" fill="#000"/>
<rect x="90.37" y="732.4" width="7.6" height="3.0" fill="#000"/>
<rect x="93.41" y="732.4" width="7.6" height="3.0" fill="#000"/>
<rect x="97.02" y="732.4" width="7.6" height="3.0" fill="#000"/>
<rect x="118.44" y="732.4" width="7.6" height="3.0" fill="#000"/>
<rect x="121.49" y="732.4" width="7.6" height="3.0" fill="#000"/>
<rect x="202.56" y="732.4" width="7.6" height="3.0" fill="#000"/>
<rect x="206.61" y="732.4" width="7.6" height="3.0" fill="#000"/>
<rect x="226.68" y="732.4" width="7.6" height="3.0" fill="#000"/>
<rect x="229.5" y="732.4" width="7.6" height="3.0" fill="#000"/>
<rect x="232.21" y="732.4" width="7.6" height="3.0" fill="#000"/>
<rect x="259.61" y="732.4" width="7.6" height="3.0" fill="#000"/>
<rect x="279.11" y="732.4" width="7.6" height="3.0" fill="#000"/>
<rect x="283.62" y="732.4" width="7.6" height="3.0" fill="#000"/>
<rect x="306.17" y="732.4" width="7.6" height="3.0" fill="#000"/>
<polyline fill="none" stroke="#000" stroke-width="1.5" stroke-linejoin="round" points="40.5,652.35 43.88,656.13 47.27,663.22 67.56,664.16 70.94,664.4 73.76,666.29 94.17,664.16 97.21,666.29 100.82,664.87 122.24,664.4 125.29,661.56 206.36,660.38 210.41,657.31 230.48,654.24 233.3,655.89 236.01,655.42 263.41,650.93 282.91,652.11 287.42,654.95 309.97,652.59 316.96,659.67"/>
<polygon points="40.5,647.55 45.3,652.35 40.5,657.15 35.7,652.35" fill="#000"/>
<polygon points="43.88,651.33 48.68,656.13 43.88,660.93 39.08,656.13" fill="#000"/>
<polygon points="47.27,658.42 52.06,663.22 47.27,668.02 42.47,663.22" fill="#000"/>
<polygon points="67.56,659.36 72.36,664.16 67.56,668.96 62.76,664.16" fill="#000"/>
<polygon points="70.94,659.6 75.74,664.4 70.94,669.2 66.14,664.4" fill="#000"/>
<polygon points="73.76,661.49 78.56,666.29 73.76,671.09 68.96,666.29" fill="#000"/>
<polygon points="94.17,659.36 98.97,664.16 94.17,668.96 89.37,664.16" fill="#000"/>
<polygon points="97.21,661.49 102.01,666.29 97.21,671.09 92.41,666.29" fill="#000"/>
<polygon points="100.82,660.07 105.62,664.87 100.82,669.67 96.02,664.87" fill="#000"/>
<polygon points="122.24,659.6 127.04,664.4 122.24,669.2 117.44,664.4" fill="#000"/>
<polygon points="125.29,656.76 130.09,661.56 125.29,666.36 120.49,661.56" fill="#000"/>
<polygon points="206.36,655.58 211.16,660.38 206.36,665.18 201.56,660.38" fill="#000"/>
<polygon points="210.41,652.51 215.21,657.31 210.41,662.11 205.61,657.31" fill="#000"/>
<polygon points="230.48,649.44 235.28,654.24 230.48,659.04 225.68,654.24" fill="#000"/>
<polygon points="233.3,651.09 238.1,655.89 233.3,660.69 228.5,655.89" fill="#000"/>
<polygon points="236.01,650.62 240.81,655.42 236.01,660.22 231.21,655.42" fill="#000"/>
<polygon points="263.41,646.13 268.21,650.93 263.41,655.73 258.61,650.93" fill="#000"/>
<polygon points="282.91,647.31 287.71,652.11 282.91,656.91 278.11,652.11" fill="#000"/>
<polygon points="287.42,650.15 292.22,654.95 287.42,659.75 282.62,654.95" fill="#000"/>
<polygon points="309.97,647.79 314.77,652.59 309.97,657.39 305.17,652.59" fill="#000"/>
<polygon points="316.96,654.87 321.76,659.67 316.96,664.47 312.16,659.67" fill="#000"/>
<polyline fill="none" stroke="#000" stroke-width="1.5" stroke-linejoin="round" points="40.5,675.74 43.88,678.81 47.27,682.36 67.56,690.39 70.94,692.52 73.76,694.65 94.17,697.72 97.21,697.72 100.82,697.72 122.24,696.54 125.29,696.54 206.36,694.88 210.41,694.65 230.48,692.05 233.3,692.76 236.01,693.7 263.41,687.79 282.91,689.92 287.42,686.38 309.97,685.43 316.96,684.96"/>
<path d="M37 672.24L44 679.24M37 679.24L44 672.24M40.5 672.24V679.24" stroke="#000" stroke-width="1.2"/>
<path d="M40.38 675.31L47.38 682.31M40.38 682.31L47.38 675.31M43.88 675.31V682.31" stroke="#000" stroke-width="1.2"/>
<path d="M43.77 678.86L50.77 685.86M43.77 685.86L50.77 678.86M47.27 678.86V685.86" stroke="#000" stroke-width="1.2"/>
<path d="M64.06 686.89L71.06 693.89M64.06 693.89L71.06 686.89M67.56 686.89V693.89" stroke="#000" stroke-width="1.2"/>
<path d="M67.44 689.02L74.44 696.02M67.44 696.02L74.44 689.02M70.94 689.02V696.02" stroke="#000" stroke-width="1.2"/>
<path d="M70.26 691.15L77.26 698.15M70.26 698.15L77.26 691.15M73.76 691.15V698.15" stroke="#000" stroke-width="1.2"/>
<path d="M90.67 694.22L97.67 701.22M90.67 701.22L97.67 694.22M94.17 694.22V701.22" stroke="#000" stroke-width="1.2"/>
<path d="M93.71 694.22L100.71 701.22M93.71 701.22L100.71 694.22M97.21 694.22V701.22" stroke="#000" stroke-width="1.2"/>
<path d="M97.32 694.22L104.32 701.22M97.32 701.22L104.32 694.22M100.82 694.22V701.22" stroke="#000" stroke-width="1.2"/>
<path d="M118.74 693.04L125.74 700.04M118.74 700.04L125.74 693.04M122.24 693.04V700.04" stroke="#000" stroke-width="1.2"/>
<path d="M121.79 693.04L128.79 700.04M121.79 700.04L128.79 693.04M125.29 693.04V700.04" stroke="#000" stroke-width="1.2"/>
<path d="M202.86 691.38L209.86 698.38M202.86 698.38L209.86 691.38M206.36 691.38V698.38" stroke="#000" stroke-width="1.2"/>
<path d="M206.91 691.15L213.91 698.15M206.91 698.15L213.91 691.15M210.41 691.15V698.15" stroke="#000" stroke-width="1.2"/>
<path d="M226.98 688.55L233.98 695.55M226.98 695.55L233.98 688.55M230.48 688.55V695.55" stroke="#000" stroke-width="1.2"/>
<path d="M229.8 689.26L236.8 696.26M229.8 696.26L236.8 689.26M233.3 689.26V696.26" stroke="#000" stroke-width="1.2"/>
<path d="M232.51 690.2L239.51 697.2M232.51 697.2L239.51 690.2M236.01 690.2V697.2" stroke="#000" stroke-width="1.2"/>
<path d="M259.91 684.29L266.91 691.29M259.91 691.29L266.91 684.29M263.41 684.29V691.29" stroke="#000" stroke-width="1.2"/>
<path d="M279.41 686.42L286.41 693.42M279.41 693.42L286.41 686.42M282.91 686.42V693.42" stroke="#000" stroke-width="1.2"/>
<path d="M283.92 682.88L290.92 689.88M283.92 689.88L290.92 682.88M287.42 682.88V689.88" stroke="#000" stroke-width="1.2"/>
<path d="M306.47 681.93L313.47 688.93M306.47 688.93L313.47 681.93M309.97 681.93V688.93" stroke="#000" stroke-width="1.2"/>
<path d="M313.46 681.46L320.46 688.46M313.46 688.46L320.46 681.46M316.96 681.46V688.46" stroke="#000" stroke-width="1.2"/>
<polyline fill="none" stroke="#000" stroke-width="1.5" stroke-linejoin="round" points="40.5,711.42 43.88,713.79 47.27,714.73 67.56,716.62 70.94,716.62 73.76,716.86 94.17,717.1 97.21,717.1 100.82,717.1 122.24,715.91 125.29,715.91 206.36,715.44 210.41,715.44 230.48,715.44 233.3,715.44 236.01,715.44 263.41,711.19 282.91,711.19 287.42,710.24 309.97,707.88 316.96,707.41"/>
<path d="M36.9 711.42H44.1M40.5 707.82V715.02" stroke="#000" stroke-width="1.3"/>
<path d="M40.28 713.79H47.48M43.88 710.19V717.39" stroke="#000" stroke-width="1.3"/>
<path d="M43.66 714.73H50.87M47.27 711.13V718.33" stroke="#000" stroke-width="1.3"/>
<path d="M63.96 716.62H71.16M67.56 713.02V720.22" stroke="#000" stroke-width="1.3"/>
<path d="M67.34 716.62H74.54M70.94 713.02V720.22" stroke="#000" stroke-width="1.3"/>
<path d="M70.16 716.86H77.36M73.76 713.26V720.46" stroke="#000" stroke-width="1.3"/>
<path d="M90.57 717.1H97.77M94.17 713.5V720.7" stroke="#000" stroke-width="1.3"/>
<path d="M93.61 717.1H100.81M97.21 713.5V720.7" stroke="#000" stroke-width="1.3"/>
<path d="M97.22 717.1H104.42M100.82 713.5V720.7" stroke="#000" stroke-width="1.3"/>
<path d="M118.64 715.91H125.84M122.24 712.31V719.51" stroke="#000" stroke-width="1.3"/>
<path d="M121.69 715.91H128.89M125.29 712.31V719.51" stroke="#000" stroke-width="1.3"/>
<path d="M202.76 715.44H209.96M206.36 711.84V719.04" stroke="#000" stroke-width="1.3"/>
<path d="M206.81 715.44H214.01M210.41 711.84V719.04" stroke="#000" stroke-width="1.3"/>
<path d="M226.88 715.44H234.08M230.48 711.84V719.04" stroke="#000" stroke-width="1.3"/>
<path d="M229.7 715.44H236.9M233.3 711.84V719.04" stroke="#000" stroke-width="1.3"/>
<path d="M232.41 715.44H239.61M236.01 711.84V719.04" stroke="#000" stroke-width="1.3"/>
<path d="M259.81 711.19H267.01M263.41 707.59V714.79" stroke="#000" stroke-width="1.3"/>
<path d="M279.31 711.19H286.51M282.91 707.59V714.79" stroke="#000" stroke-width="1.3"/>
<path d="M283.82 710.24H291.02M287.42 706.64V713.84" stroke="#000" stroke-width="1.3"/>
<path d="M306.37 707.88H313.57M309.97 704.28V711.48" stroke="#000" stroke-width="1.3"/>
<path d="M313.36 707.41H320.56M316.96 703.81V711.01" stroke="#000" stroke-width="1.3"/>
<path d="M67.56 716.62V721.22M63.96 721.22H71.16" stroke="#222" stroke-width="0.9" fill="none"/>
<path d="M70.94 716.62V721.22M67.34 721.22H74.54" stroke="#222" stroke-width="0.9" fill="none"/>
<path d="M73.76 716.86V721.46M70.16 721.46H77.36" stroke="#222" stroke-width="0.9" fill="none"/>
<path d="M94.17 717.1V721.7M90.57 721.7H97.77" stroke="#222" stroke-width="0.9" fill="none"/>
<path d="M97.21 717.1V721.7M93.61 721.7H100.81" stroke="#222" stroke-width="0.9" fill="none"/>
<path d="M100.82 717.1V721.7M97.22 721.7H104.42" stroke="#222" stroke-width="0.9" fill="none"/>
<path d="M122.24 715.91V720.51M118.64 720.51H125.84" stroke="#222" stroke-width="0.9" fill="none"/>
<path d="M125.29 715.91V720.51M121.69 720.51H128.89" stroke="#222" stroke-width="0.9" fill="none"/>
<path d="M206.36 715.44V720.04M202.76 720.04H209.96" stroke="#222" stroke-width="0.9" fill="none"/>
<path d="M210.41 715.44V720.04M206.81 720.04H214.01" stroke="#222" stroke-width="0.9" fill="none"/>
<path d="M230.48 715.44V720.04M226.88 720.04H234.08" stroke="#222" stroke-width="0.9" fill="none"/>
<path d="M233.3 715.44V720.04M229.7 720.04H236.9" stroke="#222" stroke-width="0.9" fill="none"/>
<path d="M236.01 715.44V720.04M232.41 720.04H239.61" stroke="#222" stroke-width="0.9" fill="none"/>
<path d="M263.41 711.19V715.79M259.81 715.79H267.01" stroke="#222" stroke-width="0.9" fill="none"/>
<path d="M282.91 711.19V715.79M279.31 715.79H286.51" stroke="#222" stroke-width="0.9" fill="none"/>
<path d="M287.42 710.24V714.84M283.82 714.84H291.02" stroke="#222" stroke-width="0.9" fill="none"/>
<path d="M309.97 707.88V712.48M306.37 712.48H313.57" stroke="#222" stroke-width="0.9" fill="none"/>
<path d="M316.96 707.41V712.01M313.36 712.01H320.56" stroke="#222" stroke-width="0.9" fill="none"/>
<polyline fill="none" stroke="#000" stroke-width="1.5" stroke-linejoin="round" points="40.5,699.85 43.88,701.97 47.27,704.1 67.56,706.46 70.94,708.59 73.76,709.77 94.17,710.72 97.21,711.19 100.82,711.19 122.24,710.72 125.29,710.01 206.36,709.3 210.41,708.12 230.48,708.59 233.3,708.12 236.01,708.59 263.41,705.28 282.91,707.88 287.42,705.75 309.97,705.04 316.96,705.52"/>
<circle cx="40.5" cy="699.85" r="3.7" fill="#000"/>
<circle cx="43.88" cy="701.97" r="3.7" fill="#000"/>
<circle cx="47.27" cy="704.1" r="3.7" fill="#000"/>
<circle cx="67.56" cy="706.46" r="3.7" fill="#000"/>
<circle cx="70.94" cy="708.59" r="3.7" fill="#000"/>
<circle cx="73.76" cy="709.77" r="3.7" fill="#000"/>
<circle cx="94.17" cy="710.72" r="3.7" fill="#000"/>
<circle cx="97.21" cy="711.19" r="3.7" fill="#000"/>
<circle cx="100.82" cy="711.19" r="3.7" fill="#000"/>
<circle cx="122.24" cy="710.72" r="3.7" fill="#000"/>
<circle cx="125.29" cy="710.01" r="3.7" fill="#000"/>
<circle cx="206.36" cy="709.3" r="3.7" fill="#000"/>
<circle cx="210.41" cy="708.12" r="3.7" fill="#000"/>
<circle cx="230.48" cy="708.59" r="3.7" fill="#000"/>
<circle cx="233.3" cy="708.12" r="3.7" fill="#000"/>
<circle cx="236.01" cy="708.59" r="3.7" fill="#000"/>
<circle cx="263.41" cy="705.28" r="3.7" fill="#000"/>
<circle cx="282.91" cy="707.88" r="3.7" fill="#000"/>
<circle cx="287.42" cy="705.75" r="3.7" fill="#000"/>
<circle cx="309.97" cy="705.04" r="3.7" fill="#000"/>
<circle cx="316.96" cy="705.52" r="3.7" fill="#000"/>
<polyline fill="none" stroke="#000" stroke-width="1.5" stroke-linejoin="round" points="40.5,725.37 43.88,725.37 47.27,726.07 67.56,727.02 70.94,727.49 73.76,727.49 94.17,727.49 97.21,728.2 100.82,728.2 122.24,728.67 125.29,728.2 206.36,728.2 210.41,727.49 230.48,727.97 233.3,727.97 236.01,727.97 263.41,726.55 282.91,725.37 287.42,729.38 309.97,728.67 316.96,733.4"/>
<path d="M37 721.87L44 728.87M37 728.87L44 721.87" stroke="#000" stroke-width="1.3"/>
<path d="M40.38 721.87L47.38 728.87M40.38 728.87L47.38 721.87" stroke="#000" stroke-width="1.3"/>
<path d="M43.77 722.57L50.77 729.57M43.77 729.57L50.77 722.57" stroke="#000" stroke-width="1.3"/>
<path d="M64.06 723.52L71.06 730.52M64.06 730.52L71.06 723.52" stroke="#000" stroke-width="1.3"/>
<path d="M67.44 723.99L74.44 730.99M67.44 730.99L74.44 723.99" stroke="#000" stroke-width="1.3"/>
<path d="M70.26 723.99L77.26 730.99M70.26 730.99L77.26 723.99" stroke="#000" stroke-width="1.3"/>
<path d="M90.67 723.99L97.67 730.99M90.67 730.99L97.67 723.99" stroke="#000" stroke-width="1.3"/>
<path d="M93.71 724.7L100.71 731.7M93.71 731.7L100.71 724.7" stroke="#000" stroke-width="1.3"/>
<path d="M97.32 724.7L104.32 731.7M97.32 731.7L104.32 724.7" stroke="#000" stroke-width="1.3"/>
<path d="M118.74 725.17L125.74 732.17M118.74 732.17L125.74 725.17" stroke="#000" stroke-width="1.3"/>
<path d="M121.79 724.7L128.79 731.7M121.79 731.7L128.79 724.7" stroke="#000" stroke-width="1.3"/>
<path d="M202.86 724.7L209.86 731.7M202.86 731.7L209.86 724.7" stroke="#000" stroke-width="1.3"/>
<path d="M206.91 723.99L213.91 730.99M206.91 730.99L213.91 723.99" stroke="#000" stroke-width="1.3"/>
<path d="M226.98 724.47L233.98 731.47M226.98 731.47L233.98 724.47" stroke="#000" stroke-width="1.3"/>
<path d="M229.8 724.47L236.8 731.47M229.8 731.47L236.8 724.47" stroke="#000" stroke-width="1.3"/>
<path d="M232.51 724.47L239.51 731.47M232.51 731.47L239.51 724.47" stroke="#000" stroke-width="1.3"/>
<path d="M259.91 723.05L266.91 730.05M259.91 730.05L266.91 723.05" stroke="#000" stroke-width="1.3"/>
<path d="M279.41 721.87L286.41 728.87M279.41 728.87L286.41 721.87" stroke="#000" stroke-width="1.3"/>
<path d="M283.92 725.88L290.92 732.88M283.92 732.88L290.92 725.88" stroke="#000" stroke-width="1.3"/>
<path d="M306.47 725.17L313.47 732.17M306.47 732.17L313.47 725.17" stroke="#000" stroke-width="1.3"/>
<path d="M313.46 729.9L320.46 736.9M313.46 736.9L320.46 729.9" stroke="#000" stroke-width="1.3"/>
<text x="354.7" y="554.7" font-size="14.5" font-family="'Liberation Serif', serif" fill="#000" font-weight="bold">F</text>
<text x="0" y="0" transform="translate(528.9 574.4) scale(1 1.07)" font-size="17" font-family="'Liberation Serif', serif" fill="#000" font-weight="bold" text-anchor="middle">JMY7782</text>
<line x1="398.3" y1="733.6" x2="679.6" y2="733.6" stroke="#000" stroke-width="1.3"/>
<line x1="398.8" y1="733.6" x2="398.8" y2="737.8" stroke="#000" stroke-width="1.1"/>
<text x="0" y="0" transform="translate(398.8 753.8) scale(1 0.96)" font-size="12" font-family="'Liberation Sans', sans-serif" fill="#000" text-anchor="middle">0</text>
<line x1="424.72" y1="733.6" x2="424.72" y2="737.8" stroke="#000" stroke-width="1.1"/>
<text x="0" y="0" transform="translate(424.72 753.8) scale(1 0.96)" font-size="12" font-family="'Liberation Sans', sans-serif" fill="#000" text-anchor="middle">24</text>
<line x1="450.64" y1="733.6" x2="450.64" y2="737.8" stroke="#000" stroke-width="1.1"/>
<text x="0" y="0" transform="translate(450.64 753.8) scale(1 0.96)" font-size="12" font-family="'Liberation Sans', sans-serif" fill="#000" text-anchor="middle">48</text>
<line x1="476.56" y1="733.6" x2="476.56" y2="737.8" stroke="#000" stroke-width="1.1"/>
<text x="0" y="0" transform="translate(476.56 753.8) scale(1 0.96)" font-size="12" font-family="'Liberation Sans', sans-serif" fill="#000" text-anchor="middle">72</text>
<line x1="502.48" y1="733.6" x2="502.48" y2="737.8" stroke="#000" stroke-width="1.1"/>
<text x="0" y="0" transform="translate(502.48 753.8) scale(1 0.96)" font-size="12" font-family="'Liberation Sans', sans-serif" fill="#000" text-anchor="middle">96</text>
<line x1="528.4" y1="733.6" x2="528.4" y2="737.8" stroke="#000" stroke-width="1.1"/>
<text x="0" y="0" transform="translate(528.4 753.8) scale(1 0.96)" font-size="12" font-family="'Liberation Sans', sans-serif" fill="#000" text-anchor="middle">120</text>
<line x1="554.32" y1="733.6" x2="554.32" y2="737.8" stroke="#000" stroke-width="1.1"/>
<text x="0" y="0" transform="translate(554.32 753.8) scale(1 0.96)" font-size="12" font-family="'Liberation Sans', sans-serif" fill="#000" text-anchor="middle">144</text>
<line x1="580.24" y1="733.6" x2="580.24" y2="737.8" stroke="#000" stroke-width="1.1"/>
<text x="0" y="0" transform="translate(580.24 753.8) scale(1 0.96)" font-size="12" font-family="'Liberation Sans', sans-serif" fill="#000" text-anchor="middle">168</text>
<line x1="606.16" y1="733.6" x2="606.16" y2="737.8" stroke="#000" stroke-width="1.1"/>
<text x="0" y="0" transform="translate(606.16 753.8) scale(1 0.96)" font-size="12" font-family="'Liberation Sans', sans-serif" fill="#000" text-anchor="middle">192</text>
<line x1="632.08" y1="733.6" x2="632.08" y2="737.8" stroke="#000" stroke-width="1.1"/>
<text x="0" y="0" transform="translate(632.08 753.8) scale(1 0.96)" font-size="12" font-family="'Liberation Sans', sans-serif" fill="#000" text-anchor="middle">216</text>
<line x1="658" y1="733.6" x2="658" y2="737.8" stroke="#000" stroke-width="1.1"/>
<text x="0" y="0" transform="translate(658 753.8) scale(1 0.96)" font-size="12" font-family="'Liberation Sans', sans-serif" fill="#000" text-anchor="middle">240</text>
<text x="0" y="0" transform="translate(387.2 738.1) scale(1 0.97)" font-size="11.8" font-family="'Liberation Sans', sans-serif" fill="#000" text-anchor="end">0</text>
<text x="0" y="0" transform="translate(387.2 713.55) scale(1 0.97)" font-size="11.8" font-family="'Liberation Sans', sans-serif" fill="#000" text-anchor="end">1</text>
<text x="0" y="0" transform="translate(387.2 689) scale(1 0.97)" font-size="11.8" font-family="'Liberation Sans', sans-serif" fill="#000" text-anchor="end">2</text>
<text x="0" y="0" transform="translate(387.2 664.45) scale(1 0.97)" font-size="11.8" font-family="'Liberation Sans', sans-serif" fill="#000" text-anchor="end">3</text>
<text x="0" y="0" transform="translate(387.2 639.9) scale(1 0.97)" font-size="11.8" font-family="'Liberation Sans', sans-serif" fill="#000" text-anchor="end">4</text>
<text x="0" y="0" transform="translate(387.2 615.35) scale(1 0.97)" font-size="11.8" font-family="'Liberation Sans', sans-serif" fill="#000" text-anchor="end">5</text>
<text x="0" y="0" transform="translate(387.2 590.8) scale(1 0.97)" font-size="11.8" font-family="'Liberation Sans', sans-serif" fill="#000" text-anchor="end">6</text>
<text x="0" y="0" transform="translate(387.2 566.25) scale(1 0.97)" font-size="11.8" font-family="'Liberation Sans', sans-serif" fill="#000" text-anchor="end">7</text>
<text x="368.7" y="647.5" transform="rotate(-90 368.7 647.5)" font-size="14.2" font-family="'Liberation Serif', serif" fill="#000" font-weight="bold" text-anchor="middle">SCFAs concentration (g/L)</text>
<text x="539.8" y="772.4" font-size="14" font-family="'Liberation Serif', serif" fill="#000" font-weight="bold" text-anchor="middle">Time (h)</text>
<polyline fill="none" stroke="#000" stroke-width="1.5" stroke-linejoin="round" points="398.8,578.35 402.04,590.63 405.28,599.22 422.56,705.77"/>
<polyline fill="none" stroke="#000" stroke-width="1.5" stroke-linejoin="round" points="451.18,732.04 454.96,732.04 457.88,732.04 480.56,732.04 483.8,732.04 557.67,732.04 560.91,732.04 581.32,732.04 584.02,732.04 586.5,732.04 613.07,732.04 632.08,732.77 634.89,725.9 658,723.93 664.8,723.69"/>
<rect x="395" y="574.55" width="7.6" height="7.6" fill="#000"/>
<rect x="398.24" y="586.83" width="7.6" height="7.6" fill="#000"/>
<rect x="401.48" y="595.42" width="7.6" height="7.6" fill="#000"/>
<rect x="447.38" y="733" width="7.6" height="3.0" fill="#000"/>
<rect x="451.16" y="733" width="7.6" height="3.0" fill="#000"/>
<rect x="454.08" y="733" width="7.6" height="3.0" fill="#000"/>
<rect x="476.76" y="733" width="7.6" height="3.0" fill="#000"/>
<rect x="480" y="733" width="7.6" height="3.0" fill="#000"/>
<rect x="553.87" y="733" width="7.6" height="3.0" fill="#000"/>
<rect x="557.11" y="733" width="7.6" height="3.0" fill="#000"/>
<rect x="577.52" y="733" width="7.6" height="3.0" fill="#000"/>
<rect x="580.22" y="733" width="7.6" height="3.0" fill="#000"/>
<rect x="582.7" y="733" width="7.6" height="3.0" fill="#000"/>
<rect x="609.27" y="733" width="7.6" height="3.0" fill="#000"/>
<rect x="631.09" y="722.1" width="7.6" height="7.6" fill="#000"/>
<rect x="654.2" y="720.13" width="7.6" height="7.6" fill="#000"/>
<rect x="661" y="719.89" width="7.6" height="7.6" fill="#000"/>
<polyline fill="none" stroke="#000" stroke-width="1.5" stroke-linejoin="round" points="398.8,649.06 402.04,655.69 405.28,659.37 425.58,661.33 428.5,664.03 431.85,663.05 451.18,661.33 454.96,660.35 457.88,663.05 480.56,660.1 483.8,662.56 557.67,659.12 560.91,658.63 581.32,652.49 584.02,653.48 586.5,654.21 613.07,648.08 632.08,642.18 634.89,641.94 658,640.22 664.8,642.18"/>
<polygon points="398.8,644.26 403.6,649.06 398.8,653.86 394,649.06" fill="#000"/>
<polygon points="402.04,650.89 406.84,655.69 402.04,660.49 397.24,655.69" fill="#000"/>
<polygon points="405.28,654.57 410.08,659.37 405.28,664.17 400.48,659.37" fill="#000"/>
<polygon points="425.58,656.53 430.38,661.33 425.58,666.13 420.78,661.33" fill="#000"/>
<polygon points="428.5,659.23 433.3,664.03 428.5,668.83 423.7,664.03" fill="#000"/>
<polygon points="431.85,658.25 436.65,663.05 431.85,667.85 427.05,663.05" fill="#000"/>
<polygon points="451.18,656.53 455.98,661.33 451.18,666.13 446.38,661.33" fill="#000"/>
<polygon points="454.96,655.55 459.76,660.35 454.96,665.15 450.16,660.35" fill="#000"/>
<polygon points="457.88,658.25 462.68,663.05 457.88,667.85 453.08,663.05" fill="#000"/>
<polygon points="480.56,655.3 485.36,660.1 480.56,664.9 475.76,660.1" fill="#000"/>
<polygon points="483.8,657.76 488.6,662.56 483.8,667.36 479,662.56" fill="#000"/>
<polygon points="557.67,654.32 562.47,659.12 557.67,663.92 552.87,659.12" fill="#000"/>
<polygon points="560.91,653.83 565.71,658.63 560.91,663.43 556.11,658.63" fill="#000"/>
<polygon points="581.32,647.69 586.12,652.49 581.32,657.29 576.52,652.49" fill="#000"/>
<polygon points="584.02,648.68 588.82,653.48 584.02,658.28 579.22,653.48" fill="#000"/>
<polygon points="586.5,649.41 591.3,654.21 586.5,659.01 581.7,654.21" fill="#000"/>
<polygon points="613.07,643.28 617.87,648.08 613.07,652.88 608.27,648.08" fill="#000"/>
<polygon points="632.08,637.38 636.88,642.18 632.08,646.98 627.28,642.18" fill="#000"/>
<polygon points="634.89,637.14 639.69,641.94 634.89,646.74 630.09,641.94" fill="#000"/>
<polygon points="658,635.42 662.8,640.22 658,645.02 653.2,640.22" fill="#000"/>
<polygon points="664.8,637.38 669.6,642.18 664.8,646.98 660,642.18" fill="#000"/>
<polyline fill="none" stroke="#000" stroke-width="1.5" stroke-linejoin="round" points="398.8,724.67 402.04,724.67 405.28,725.16 425.58,721.73 428.5,724.18 431.85,725.41 451.18,721.97 454.96,721.97 457.88,721.97 480.56,722.71 483.8,722.71 557.67,721.97 560.91,721.97 581.32,720.01 584.02,726.63 586.5,726.63 613.07,726.63 632.08,726.63 634.89,726.63 658,726.63 664.8,727.86"/>
<path d="M395.3 721.17L402.3 728.17M395.3 728.17L402.3 721.17M398.8 721.17V728.17" stroke="#000" stroke-width="1.2"/>
<path d="M398.54 721.17L405.54 728.17M398.54 728.17L405.54 721.17M402.04 721.17V728.17" stroke="#000" stroke-width="1.2"/>
<path d="M401.78 721.66L408.78 728.66M401.78 728.66L408.78 721.66M405.28 721.66V728.66" stroke="#000" stroke-width="1.2"/>
<path d="M422.08 718.23L429.08 725.23M422.08 725.23L429.08 718.23M425.58 718.23V725.23" stroke="#000" stroke-width="1.2"/>
<path d="M425 720.68L432 727.68M425 727.68L432 720.68M428.5 720.68V727.68" stroke="#000" stroke-width="1.2"/>
<path d="M428.35 721.91L435.35 728.91M428.35 728.91L435.35 721.91M431.85 721.91V728.91" stroke="#000" stroke-width="1.2"/>
<path d="M447.68 718.47L454.68 725.47M447.68 725.47L454.68 718.47M451.18 718.47V725.47" stroke="#000" stroke-width="1.2"/>
<path d="M451.46 718.47L458.46 725.47M451.46 725.47L458.46 718.47M454.96 718.47V725.47" stroke="#000" stroke-width="1.2"/>
<path d="M454.38 718.47L461.38 725.47M454.38 725.47L461.38 718.47M457.88 718.47V725.47" stroke="#000" stroke-width="1.2"/>
<path d="M477.06 719.21L484.06 726.21M477.06 726.21L484.06 719.21M480.56 719.21V726.21" stroke="#000" stroke-width="1.2"/>
<path d="M480.3 719.21L487.3 726.21M480.3 726.21L487.3 719.21M483.8 719.21V726.21" stroke="#000" stroke-width="1.2"/>
<path d="M554.17 718.47L561.17 725.47M554.17 725.47L561.17 718.47M557.67 718.47V725.47" stroke="#000" stroke-width="1.2"/>
<path d="M557.41 718.47L564.41 725.47M557.41 725.47L564.41 718.47M560.91 718.47V725.47" stroke="#000" stroke-width="1.2"/>
<path d="M577.82 716.51L584.82 723.51M577.82 723.51L584.82 716.51M581.32 716.51V723.51" stroke="#000" stroke-width="1.2"/>
<path d="M580.52 723.13L587.52 730.13M580.52 730.13L587.52 723.13M584.02 723.13V730.13" stroke="#000" stroke-width="1.2"/>
<path d="M583 723.13L590 730.13M583 730.13L590 723.13M586.5 723.13V730.13" stroke="#000" stroke-width="1.2"/>
<path d="M609.57 723.13L616.57 730.13M609.57 730.13L616.57 723.13M613.07 723.13V730.13" stroke="#000" stroke-width="1.2"/>
<path d="M628.58 723.13L635.58 730.13M628.58 730.13L635.58 723.13M632.08 723.13V730.13" stroke="#000" stroke-width="1.2"/>
<path d="M631.39 723.13L638.39 730.13M631.39 730.13L638.39 723.13M634.89 723.13V730.13" stroke="#000" stroke-width="1.2"/>
<path d="M654.5 723.13L661.5 730.13M654.5 730.13L661.5 723.13M658 723.13V730.13" stroke="#000" stroke-width="1.2"/>
<path d="M661.3 724.36L668.3 731.36M661.3 731.36L668.3 724.36M664.8 724.36V731.36" stroke="#000" stroke-width="1.2"/>
<polyline fill="none" stroke="#000" stroke-width="1.5" stroke-linejoin="round" points="398.8,674.83 402.04,678.52 405.28,680.73 425.58,688.83 428.5,691.53 431.85,694.47 451.18,697.17 454.96,697.17 457.88,698.89 480.56,696.93 483.8,697.42 557.67,695.46 560.91,696.44 581.32,693.49 584.02,692.26 586.5,693.74 613.07,690.79 632.08,687.85 634.89,687.85 658,687.85 664.8,690.3"/>
<polygon points="398.8,670.41 402.9,677.79 394.7,677.79" fill="#000"/>
<polygon points="402.04,674.09 406.14,681.47 397.94,681.47" fill="#000"/>
<polygon points="405.28,676.3 409.38,683.68 401.18,683.68" fill="#000"/>
<polygon points="425.58,684.4 429.68,691.78 421.48,691.78" fill="#000"/>
<polygon points="428.5,687.1 432.6,694.48 424.4,694.48" fill="#000"/>
<polygon points="431.85,690.05 435.95,697.43 427.75,697.43" fill="#000"/>
<polygon points="451.18,692.75 455.28,700.13 447.08,700.13" fill="#000"/>
<polygon points="454.96,692.75 459.06,700.13 450.86,700.13" fill="#000"/>
<polygon points="457.88,694.47 461.98,701.85 453.78,701.85" fill="#000"/>
<polygon points="480.56,692.5 484.66,699.88 476.46,699.88" fill="#000"/>
<polygon points="483.8,692.99 487.9,700.37 479.7,700.37" fill="#000"/>
<polygon points="557.67,691.03 561.77,698.41 553.57,698.41" fill="#000"/>
<polygon points="560.91,692.01 565.01,699.39 556.81,699.39" fill="#000"/>
<polygon points="581.32,689.06 585.42,696.44 577.22,696.44" fill="#000"/>
<polygon points="584.02,687.84 588.12,695.22 579.92,695.22" fill="#000"/>
<polygon points="586.5,689.31 590.6,696.69 582.4,696.69" fill="#000"/>
<polygon points="613.07,686.36 617.17,693.74 608.97,693.74" fill="#000"/>
<polygon points="632.08,683.42 636.18,690.8 627.98,690.8" fill="#000"/>
<polygon points="634.89,683.42 638.99,690.8 630.79,690.8" fill="#000"/>
<polygon points="658,683.42 662.1,690.8 653.9,690.8" fill="#000"/>
<polygon points="664.8,685.87 668.9,693.25 660.7,693.25" fill="#000"/>
<polyline fill="none" stroke="#000" stroke-width="1.5" stroke-linejoin="round" points="398.8,711.17 402.04,713.13 405.28,714.36 425.58,716.32 428.5,717.31 431.85,717.8 451.18,718.04 454.96,718.04 457.88,718.04 480.56,717.06 483.8,717.06 557.67,714.61 560.91,714.36 581.32,714.85 584.02,714.85 586.5,714.85 613.07,712.89 632.08,711.66 634.89,711.66 658,711.66 664.8,711.66"/>
<path d="M395.2 711.17H402.4M398.8 707.57V714.77" stroke="#000" stroke-width="1.3"/>
<path d="M398.44 713.13H405.64M402.04 709.53V716.73" stroke="#000" stroke-width="1.3"/>
<path d="M401.68 714.36H408.88M405.28 710.76V717.96" stroke="#000" stroke-width="1.3"/>
<path d="M421.98 716.32H429.18M425.58 712.72V719.92" stroke="#000" stroke-width="1.3"/>
<path d="M424.9 717.31H432.1M428.5 713.71V720.91" stroke="#000" stroke-width="1.3"/>
<path d="M428.25 717.8H435.45M431.85 714.2V721.4" stroke="#000" stroke-width="1.3"/>
<path d="M447.58 718.04H454.78M451.18 714.44V721.64" stroke="#000" stroke-width="1.3"/>
<path d="M451.36 718.04H458.56M454.96 714.44V721.64" stroke="#000" stroke-width="1.3"/>
<path d="M454.28 718.04H461.48M457.88 714.44V721.64" stroke="#000" stroke-width="1.3"/>
<path d="M476.96 717.06H484.16M480.56 713.46V720.66" stroke="#000" stroke-width="1.3"/>
<path d="M480.2 717.06H487.4M483.8 713.46V720.66" stroke="#000" stroke-width="1.3"/>
<path d="M554.07 714.61H561.27M557.67 711.01V718.21" stroke="#000" stroke-width="1.3"/>
<path d="M557.31 714.36H564.51M560.91 710.76V717.96" stroke="#000" stroke-width="1.3"/>
<path d="M577.72 714.85H584.92M581.32 711.25V718.45" stroke="#000" stroke-width="1.3"/>
<path d="M580.42 714.85H587.62M584.02 711.25V718.45" stroke="#000" stroke-width="1.3"/>
<path d="M582.9 714.85H590.1M586.5 711.25V718.45" stroke="#000" stroke-width="1.3"/>
<path d="M609.47 712.89H616.67M613.07 709.29V716.49" stroke="#000" stroke-width="1.3"/>
<path d="M628.48 711.66H635.68M632.08 708.06V715.26" stroke="#000" stroke-width="1.3"/>
<path d="M631.29 711.66H638.49M634.89 708.06V715.26" stroke="#000" stroke-width="1.3"/>
<path d="M654.4 711.66H661.6M658 708.06V715.26" stroke="#000" stroke-width="1.3"/>
<path d="M661.2 711.66H668.4M664.8 708.06V715.26" stroke="#000" stroke-width="1.3"/>
<polyline fill="none" stroke="#000" stroke-width="1.5" stroke-linejoin="round" points="398.8,699.14 402.04,701.1 405.28,704.05 425.58,707 428.5,709.45 431.85,711.17 451.18,712.64 454.96,712.64 457.88,713.13 480.56,711.9 483.8,711.9 557.67,709.45 560.91,710.92 581.32,710.68 584.02,710.68 586.5,710.68 613.07,708.71 632.08,706.5 634.89,706.5 658,707.24 664.8,709.45"/>
<circle cx="398.8" cy="699.14" r="3.7" fill="#000"/>
<circle cx="402.04" cy="701.1" r="3.7" fill="#000"/>
<circle cx="405.28" cy="704.05" r="3.7" fill="#000"/>
<circle cx="425.58" cy="707" r="3.7" fill="#000"/>
<circle cx="428.5" cy="709.45" r="3.7" fill="#000"/>
<circle cx="431.85" cy="711.17" r="3.7" fill="#000"/>
<circle cx="451.18" cy="712.64" r="3.7" fill="#000"/>
<circle cx="454.96" cy="712.64" r="3.7" fill="#000"/>
<circle cx="457.88" cy="713.13" r="3.7" fill="#000"/>
<circle cx="480.56" cy="711.9" r="3.7" fill="#000"/>
<circle cx="483.8" cy="711.9" r="3.7" fill="#000"/>
<circle cx="557.67" cy="709.45" r="3.7" fill="#000"/>
<circle cx="560.91" cy="710.92" r="3.7" fill="#000"/>
<circle cx="581.32" cy="710.68" r="3.7" fill="#000"/>
<circle cx="584.02" cy="710.68" r="3.7" fill="#000"/>
<circle cx="586.5" cy="710.68" r="3.7" fill="#000"/>
<circle cx="613.07" cy="708.71" r="3.7" fill="#000"/>
<circle cx="632.08" cy="706.5" r="3.7" fill="#000"/>
<circle cx="634.89" cy="706.5" r="3.7" fill="#000"/>
<circle cx="658" cy="707.24" r="3.7" fill="#000"/>
<circle cx="664.8" cy="709.45" r="3.7" fill="#000"/>
<polyline fill="none" stroke="#000" stroke-width="1.5" stroke-linejoin="round" points="398.8,725.41 402.04,725.41 405.28,725.9 425.58,726.63 428.5,727.86 431.85,729.09 451.18,729.09 454.96,729.09 457.88,729.09 480.56,729.09 483.8,729.09 557.67,728.6 560.91,728.6 581.32,725.9 584.02,729.09 586.5,729.09 613.07,725.9 632.08,728.11 634.89,733.26 658,730.07 664.8,734"/>
<path d="M395.3 721.91L402.3 728.91M395.3 728.91L402.3 721.91" stroke="#000" stroke-width="1.3"/>
<path d="M398.54 721.91L405.54 728.91M398.54 728.91L405.54 721.91" stroke="#000" stroke-width="1.3"/>
<path d="M401.78 722.4L408.78 729.4M401.78 729.4L408.78 722.4" stroke="#000" stroke-width="1.3"/>
<path d="M422.08 723.13L429.08 730.13M422.08 730.13L429.08 723.13" stroke="#000" stroke-width="1.3"/>
<path d="M425 724.36L432 731.36M425 731.36L432 724.36" stroke="#000" stroke-width="1.3"/>
<path d="M428.35 725.59L435.35 732.59M428.35 732.59L435.35 725.59" stroke="#000" stroke-width="1.3"/>
<path d="M447.68 725.59L454.68 732.59M447.68 732.59L454.68 725.59" stroke="#000" stroke-width="1.3"/>
<path d="M451.46 725.59L458.46 732.59M451.46 732.59L458.46 725.59" stroke="#000" stroke-width="1.3"/>
<path d="M454.38 725.59L461.38 732.59M454.38 732.59L461.38 725.59" stroke="#000" stroke-width="1.3"/>
<path d="M477.06 725.59L484.06 732.59M477.06 732.59L484.06 725.59" stroke="#000" stroke-width="1.3"/>
<path d="M480.3 725.59L487.3 732.59M480.3 732.59L487.3 725.59" stroke="#000" stroke-width="1.3"/>
<path d="M554.17 725.1L561.17 732.1M554.17 732.1L561.17 725.1" stroke="#000" stroke-width="1.3"/>
<path d="M557.41 725.1L564.41 732.1M557.41 732.1L564.41 725.1" stroke="#000" stroke-width="1.3"/>
<path d="M577.82 722.4L584.82 729.4M577.82 729.4L584.82 722.4" stroke="#000" stroke-width="1.3"/>
<path d="M580.52 725.59L587.52 732.59M580.52 732.59L587.52 725.59" stroke="#000" stroke-width="1.3"/>
<path d="M583 725.59L590 732.59M583 732.59L590 725.59" stroke="#000" stroke-width="1.3"/>
<path d="M609.57 722.4L616.57 729.4M609.57 729.4L616.57 722.4" stroke="#000" stroke-width="1.3"/>
<path d="M628.58 724.61L635.58 731.61M628.58 731.61L635.58 724.61" stroke="#000" stroke-width="1.3"/>
<path d="M631.39 729.76L638.39 736.76M631.39 736.76L638.39 729.76" stroke="#000" stroke-width="1.3"/>
<path d="M654.5 726.57L661.5 733.57M654.5 733.57L661.5 726.57" stroke="#000" stroke-width="1.3"/>
<path d="M661.3 730.5L668.3 737.5M661.3 737.5L668.3 730.5" stroke="#000" stroke-width="1.3"/>
</svg></body></html>
